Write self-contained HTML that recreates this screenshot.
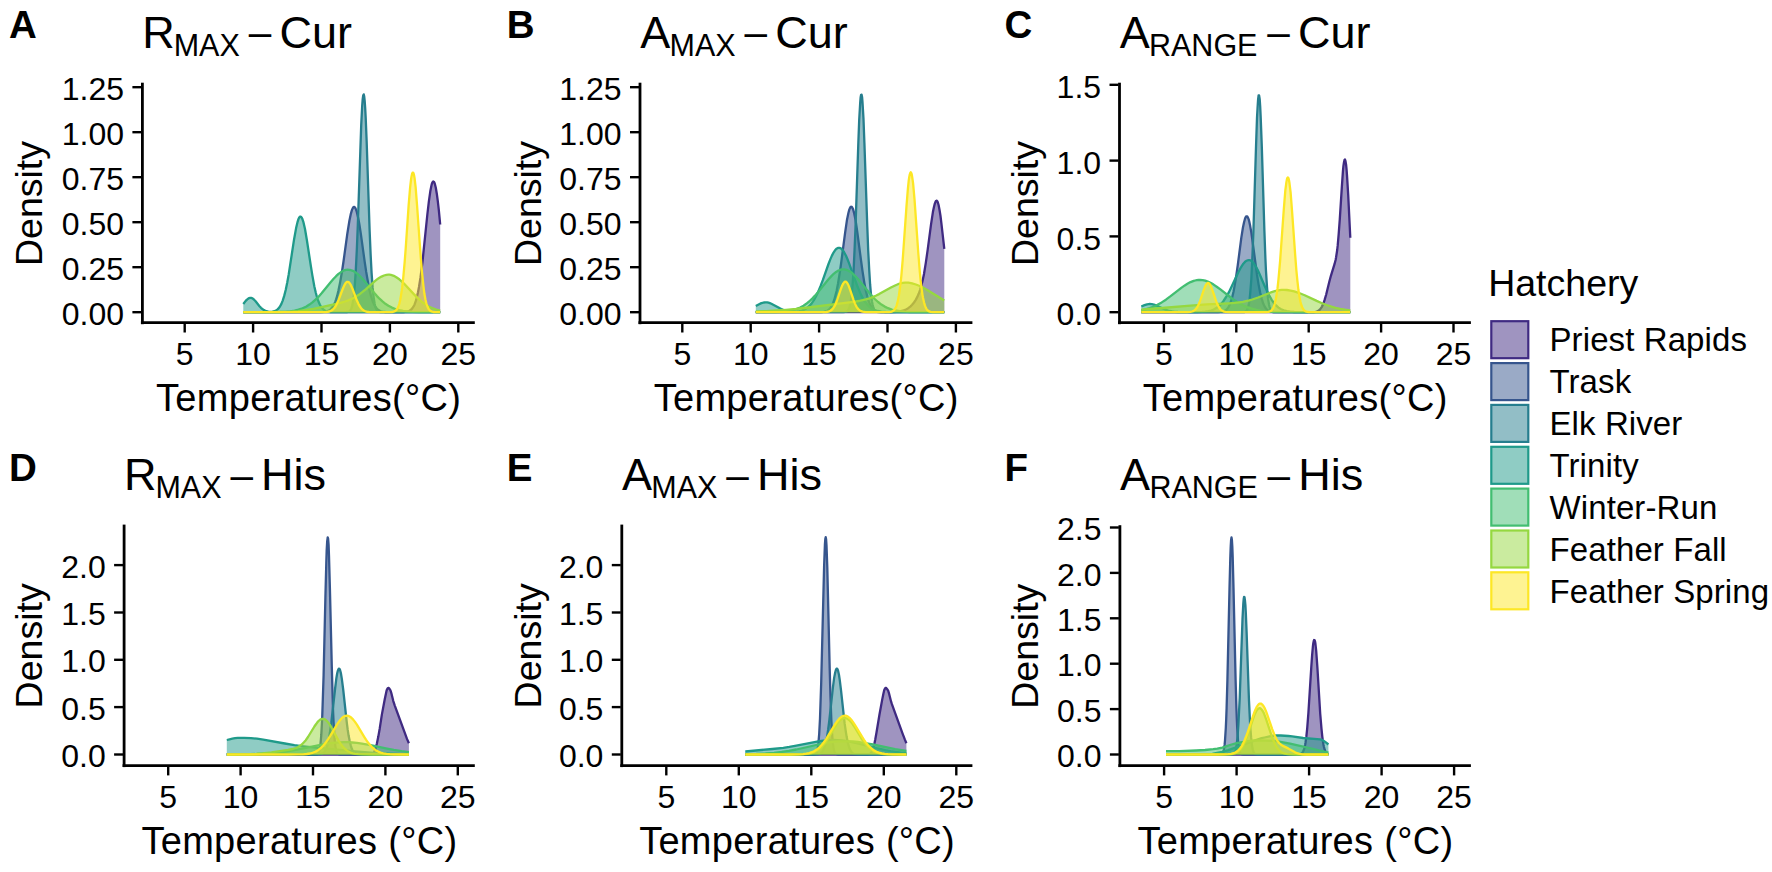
<!DOCTYPE html>
<html lang="en"><head><meta charset="utf-8"><title>Hatchery temperature density figure</title>
<style>html,body{margin:0;padding:0;background:#fff;}body{width:1772px;height:872px;overflow:hidden;}svg{display:block;}text{fill:#000;}</style>
</head><body>
<svg width="1772" height="872" viewBox="0 0 1772 872" font-family="Liberation Sans, Arial, sans-serif">
<rect x="0" y="0" width="1772" height="872" fill="#ffffff"/>
<g id="panelA">
<polygon points="243.3,312.2 243.3,312.2 399.3,312.2 403.2,312.1 405.7,311.9 407.7,311.5 409.1,311.0 410.6,310.1 412.1,308.6 413.6,306.4 414.6,304.4 416.1,300.2 417.0,296.6 418.0,292.2 419.0,287.0 420.5,277.4 422.5,261.6 423.9,247.9 427.4,214.0 428.9,201.1 430.4,190.7 431.4,185.8 431.8,184.0 432.3,182.7 432.8,181.9 433.3,181.5 433.8,181.7 434.3,182.4 434.8,183.7 435.8,187.8 436.8,193.7 437.8,201.2 438.8,209.9 440.2,224.5 440.2,312.2" fill="#3F2A82" fill-opacity="0.5" stroke="none"/>
<polyline points="243.3,312.2 399.3,312.2 403.2,312.1 405.7,311.9 407.7,311.5 409.1,311.0 410.6,310.1 412.1,308.6 413.6,306.4 414.6,304.4 416.1,300.2 417.0,296.6 418.0,292.2 419.0,287.0 420.5,277.4 422.5,261.6 423.9,247.9 427.4,214.0 428.9,201.1 430.4,190.7 431.4,185.8 431.8,184.0 432.3,182.7 432.8,181.9 433.3,181.5 433.8,181.7 434.3,182.4 434.8,183.7 435.8,187.8 436.8,193.7 437.8,201.2 438.8,209.9 440.2,224.5" fill="none" stroke="#3F2A82" stroke-width="2.3" stroke-linejoin="round"/>
<polygon points="243.3,312.2 243.3,312.2 312.9,312.2 320.8,312.1 324.2,311.9 326.7,311.4 328.7,310.6 329.7,310.0 330.6,309.3 332.1,307.6 333.1,306.2 334.1,304.4 335.1,302.1 336.1,299.4 337.1,296.2 338.5,290.3 340.0,283.1 342.0,271.5 343.5,261.5 347.4,233.2 349.4,220.8 350.9,213.6 351.9,210.1 352.4,208.9 352.9,207.9 353.3,207.2 353.8,206.9 354.3,207.0 354.8,207.3 355.3,208.0 355.8,209.0 356.8,212.0 358.3,218.5 359.3,224.0 360.8,233.6 364.7,261.9 366.2,271.9 368.2,283.4 369.6,290.6 371.1,296.4 372.6,301.0 374.1,304.5 375.1,306.3 376.1,307.7 377.0,308.8 378.0,309.7 379.0,310.4 380.0,310.9 381.0,311.3 382.5,311.7 385.4,312.0 392.8,312.2 440.2,312.2 440.2,312.2" fill="#36558D" fill-opacity="0.5" stroke="none"/>
<polyline points="243.3,312.2 312.9,312.2 320.8,312.1 324.2,311.9 326.7,311.4 328.7,310.6 329.7,310.0 330.6,309.3 332.1,307.6 333.1,306.2 334.1,304.4 335.1,302.1 336.1,299.4 337.1,296.2 338.5,290.3 340.0,283.1 342.0,271.5 343.5,261.5 347.4,233.2 349.4,220.8 350.9,213.6 351.9,210.1 352.4,208.9 352.9,207.9 353.3,207.2 353.8,206.9 354.3,207.0 354.8,207.3 355.3,208.0 355.8,209.0 356.8,212.0 358.3,218.5 359.3,224.0 360.8,233.6 364.7,261.9 366.2,271.9 368.2,283.4 369.6,290.6 371.1,296.4 372.6,301.0 374.1,304.5 375.1,306.3 376.1,307.7 377.0,308.8 378.0,309.7 379.0,310.4 380.0,310.9 381.0,311.3 382.5,311.7 385.4,312.0 392.8,312.2 440.2,312.2" fill="none" stroke="#36558D" stroke-width="2.3" stroke-linejoin="round"/>
<polygon points="243.3,312.2 243.3,312.2 345.4,312.2 347.4,312.0 348.9,311.6 349.9,310.9 350.4,310.3 350.9,309.5 351.4,308.4 351.9,307.0 352.4,305.1 353.3,299.6 353.8,295.7 354.8,285.2 355.8,270.2 356.8,250.2 357.8,225.3 360.3,151.9 361.2,125.4 362.2,105.6 362.7,99.2 363.2,95.4 363.7,94.4 364.2,96.3 364.7,101.0 365.2,108.3 365.7,117.9 366.7,142.5 369.6,229.8 370.6,253.9 371.6,273.0 372.6,287.2 373.6,297.1 374.6,303.5 375.1,305.8 375.6,307.5 376.1,308.8 376.6,309.8 377.0,310.5 377.5,311.0 378.0,311.4 379.0,311.8 381.0,312.1 440.2,312.2 440.2,312.2" fill="#267E8E" fill-opacity="0.5" stroke="none"/>
<polyline points="243.3,312.2 345.4,312.2 347.4,312.0 348.9,311.6 349.9,310.9 350.4,310.3 350.9,309.5 351.4,308.4 351.9,307.0 352.4,305.1 353.3,299.6 353.8,295.7 354.8,285.2 355.8,270.2 356.8,250.2 357.8,225.3 360.3,151.9 361.2,125.4 362.2,105.6 362.7,99.2 363.2,95.4 363.7,94.4 364.2,96.3 364.7,101.0 365.2,108.3 365.7,117.9 366.7,142.5 369.6,229.8 370.6,253.9 371.6,273.0 372.6,287.2 373.6,297.1 374.6,303.5 375.1,305.8 375.6,307.5 376.1,308.8 376.6,309.8 377.0,310.5 377.5,311.0 378.0,311.4 379.0,311.8 381.0,312.1 440.2,312.2" fill="none" stroke="#267E8E" stroke-width="2.3" stroke-linejoin="round"/>
<polygon points="243.3,312.2 243.3,304.0 245.7,300.9 246.7,299.9 247.7,299.0 249.2,298.1 250.2,297.8 250.7,297.8 251.1,297.9 252.1,298.2 253.1,298.8 254.1,299.7 255.6,301.3 259.5,306.2 261.0,307.8 262.0,308.7 264.0,310.1 265.0,310.6 266.5,311.2 268.4,311.6 270.4,311.8 272.4,311.6 274.4,311.2 275.8,310.6 277.3,309.6 278.8,308.1 279.8,306.8 281.3,304.1 282.7,300.6 284.2,295.9 285.7,290.0 287.2,282.8 288.7,274.5 294.1,239.2 296.1,228.1 297.6,221.8 298.5,218.9 299.0,217.9 299.5,217.1 300.0,216.7 300.5,216.6 301.0,216.8 301.5,217.4 302.0,218.2 302.5,219.3 303.5,222.4 305.0,229.0 306.9,240.3 310.9,266.4 312.4,275.6 314.3,286.2 315.8,292.8 316.8,296.5 317.8,299.7 318.8,302.3 319.8,304.5 320.8,306.3 321.8,307.7 322.7,308.8 324.2,310.1 325.2,310.7 326.2,311.1 328.2,311.7 330.6,312.0 334.6,312.2 440.2,312.2 440.2,312.2" fill="#1F9A8A" fill-opacity="0.5" stroke="none"/>
<polyline points="243.3,304.0 245.7,300.9 246.7,299.9 247.7,299.0 249.2,298.1 250.2,297.8 250.7,297.8 251.1,297.9 252.1,298.2 253.1,298.8 254.1,299.7 255.6,301.3 259.5,306.2 261.0,307.8 262.0,308.7 264.0,310.1 265.0,310.6 266.5,311.2 268.4,311.6 270.4,311.8 272.4,311.6 274.4,311.2 275.8,310.6 277.3,309.6 278.8,308.1 279.8,306.8 281.3,304.1 282.7,300.6 284.2,295.9 285.7,290.0 287.2,282.8 288.7,274.5 294.1,239.2 296.1,228.1 297.6,221.8 298.5,218.9 299.0,217.9 299.5,217.1 300.0,216.7 300.5,216.6 301.0,216.8 301.5,217.4 302.0,218.2 302.5,219.3 303.5,222.4 305.0,229.0 306.9,240.3 310.9,266.4 312.4,275.6 314.3,286.2 315.8,292.8 316.8,296.5 317.8,299.7 318.8,302.3 319.8,304.5 320.8,306.3 321.8,307.7 322.7,308.8 324.2,310.1 325.2,310.7 326.2,311.1 328.2,311.7 330.6,312.0 334.6,312.2 440.2,312.2" fill="none" stroke="#1F9A8A" stroke-width="2.3" stroke-linejoin="round"/>
<polygon points="243.3,312.2 243.3,312.2 272.9,312.1 279.8,312.0 285.2,311.8 290.2,311.3 294.6,310.6 298.5,309.7 302.5,308.3 306.0,306.7 309.4,304.6 312.4,302.4 315.8,299.4 318.8,296.4 321.8,293.1 330.6,282.3 333.6,278.8 336.1,276.2 338.5,273.9 341.0,272.1 343.5,270.7 345.0,270.2 345.9,269.9 347.9,269.7 348.9,269.8 350.4,270.0 351.4,270.3 352.9,270.8 355.3,272.2 357.8,274.1 360.3,276.5 362.7,279.1 365.7,282.6 374.1,292.8 377.0,296.1 379.5,298.7 382.5,301.4 385.4,303.8 388.4,305.7 391.9,307.6 395.3,309.0 399.3,310.2 403.2,310.9 407.7,311.5 412.6,311.9 419.0,312.1 440.2,312.2 440.2,312.2" fill="#42BE71" fill-opacity="0.5" stroke="none"/>
<polyline points="243.3,312.2 272.9,312.1 279.8,312.0 285.2,311.8 290.2,311.3 294.6,310.6 298.5,309.7 302.5,308.3 306.0,306.7 309.4,304.6 312.4,302.4 315.8,299.4 318.8,296.4 321.8,293.1 330.6,282.3 333.6,278.8 336.1,276.2 338.5,273.9 341.0,272.1 343.5,270.7 345.0,270.2 345.9,269.9 347.9,269.7 348.9,269.8 350.4,270.0 351.4,270.3 352.9,270.8 355.3,272.2 357.8,274.1 360.3,276.5 362.7,279.1 365.7,282.6 374.1,292.8 377.0,296.1 379.5,298.7 382.5,301.4 385.4,303.8 388.4,305.7 391.9,307.6 395.3,309.0 399.3,310.2 403.2,310.9 407.7,311.5 412.6,311.9 419.0,312.1 440.2,312.2" fill="none" stroke="#42BE71" stroke-width="2.3" stroke-linejoin="round"/>
<polygon points="243.3,312.2 243.3,312.2 267.9,312.2 280.3,312.0 290.2,311.7 298.1,311.1 305.5,310.2 313.4,308.9 322.7,306.9 340.5,302.8 345.0,301.5 348.4,300.3 351.9,298.8 355.3,297.0 358.8,294.8 362.2,292.2 365.7,289.3 374.6,281.4 377.0,279.4 379.0,278.0 381.5,276.6 384.0,275.5 386.4,274.8 388.4,274.7 389.4,274.7 390.9,274.9 392.4,275.3 393.8,275.8 396.3,277.2 399.3,279.3 401.7,281.4 404.2,283.8 413.6,293.9 417.5,297.9 421.5,301.5 424.9,304.1 428.4,306.2 430.4,307.3 432.3,308.1 436.3,309.5 440.2,310.5 440.2,312.2" fill="#95D840" fill-opacity="0.5" stroke="none"/>
<polyline points="243.3,312.2 267.9,312.2 280.3,312.0 290.2,311.7 298.1,311.1 305.5,310.2 313.4,308.9 322.7,306.9 340.5,302.8 345.0,301.5 348.4,300.3 351.9,298.8 355.3,297.0 358.8,294.8 362.2,292.2 365.7,289.3 374.6,281.4 377.0,279.4 379.0,278.0 381.5,276.6 384.0,275.5 386.4,274.8 388.4,274.7 389.4,274.7 390.9,274.9 392.4,275.3 393.8,275.8 396.3,277.2 399.3,279.3 401.7,281.4 404.2,283.8 413.6,293.9 417.5,297.9 421.5,301.5 424.9,304.1 428.4,306.2 430.4,307.3 432.3,308.1 436.3,309.5 440.2,310.5" fill="none" stroke="#95D840" stroke-width="2.3" stroke-linejoin="round"/>
<polygon points="243.3,312.2 243.3,312.2 321.3,312.2 326.2,312.0 327.7,311.8 329.2,311.5 331.1,310.7 332.6,309.7 334.1,308.2 335.6,306.2 337.1,303.4 338.5,300.1 342.5,289.5 344.0,286.0 345.0,284.1 345.9,282.7 346.4,282.3 346.9,281.9 347.4,281.8 347.9,281.8 348.4,282.0 348.9,282.3 349.9,283.5 350.9,285.2 352.4,288.5 356.8,300.3 358.3,303.6 359.3,305.5 360.3,307.0 361.2,308.3 362.2,309.4 363.7,310.5 364.7,311.0 365.7,311.4 367.2,311.8 368.7,312.0 372.1,312.2 378.5,312.2 388.4,312.2 391.9,312.0 393.3,311.8 394.3,311.4 395.3,310.9 395.8,310.5 396.8,309.4 397.8,307.8 398.8,305.4 399.3,303.8 400.3,299.7 400.7,297.2 401.7,290.9 402.2,287.2 403.2,278.3 404.7,261.6 405.7,248.5 408.6,205.8 410.1,187.7 411.1,179.0 411.6,175.9 412.1,173.8 412.6,172.7 413.1,172.6 413.6,173.6 414.1,175.5 414.6,178.4 415.6,186.9 417.0,204.7 420.5,254.1 422.0,272.3 423.5,286.5 424.4,293.8 425.4,299.3 426.4,303.5 427.4,306.5 428.4,308.5 428.9,309.3 429.9,310.4 430.4,310.8 431.4,311.4 432.3,311.7 433.3,312.0 435.8,312.2 440.2,312.2 440.2,312.2" fill="#FDE725" fill-opacity="0.5" stroke="none"/>
<polyline points="243.3,312.2 321.3,312.2 326.2,312.0 327.7,311.8 329.2,311.5 331.1,310.7 332.6,309.7 334.1,308.2 335.6,306.2 337.1,303.4 338.5,300.1 342.5,289.5 344.0,286.0 345.0,284.1 345.9,282.7 346.4,282.3 346.9,281.9 347.4,281.8 347.9,281.8 348.4,282.0 348.9,282.3 349.9,283.5 350.9,285.2 352.4,288.5 356.8,300.3 358.3,303.6 359.3,305.5 360.3,307.0 361.2,308.3 362.2,309.4 363.7,310.5 364.7,311.0 365.7,311.4 367.2,311.8 368.7,312.0 372.1,312.2 378.5,312.2 388.4,312.2 391.9,312.0 393.3,311.8 394.3,311.4 395.3,310.9 395.8,310.5 396.8,309.4 397.8,307.8 398.8,305.4 399.3,303.8 400.3,299.7 400.7,297.2 401.7,290.9 402.2,287.2 403.2,278.3 404.7,261.6 405.7,248.5 408.6,205.8 410.1,187.7 411.1,179.0 411.6,175.9 412.1,173.8 412.6,172.7 413.1,172.6 413.6,173.6 414.1,175.5 414.6,178.4 415.6,186.9 417.0,204.7 420.5,254.1 422.0,272.3 423.5,286.5 424.4,293.8 425.4,299.3 426.4,303.5 427.4,306.5 428.4,308.5 428.9,309.3 429.9,310.4 430.4,310.8 431.4,311.4 432.3,311.7 433.3,312.0 435.8,312.2 440.2,312.2" fill="none" stroke="#FDE725" stroke-width="2.3" stroke-linejoin="round"/>
<path d="M142.4,82.7 V324.2" stroke="#000" stroke-width="2.8" fill="none"/>
<path d="M140.9,322.7 H474.8" stroke="#000" stroke-width="2.8" fill="none"/>
<path d="M132.4,312.2 H141.4" stroke="#000" stroke-width="2.4"/>
<text x="124.0" y="325.3" font-size="32" text-anchor="end">0.00</text>
<path d="M132.4,267.2 H141.4" stroke="#000" stroke-width="2.4"/>
<text x="124.0" y="280.3" font-size="32" text-anchor="end">0.25</text>
<path d="M132.4,222.2 H141.4" stroke="#000" stroke-width="2.4"/>
<text x="124.0" y="235.3" font-size="32" text-anchor="end">0.50</text>
<path d="M132.4,177.2 H141.4" stroke="#000" stroke-width="2.4"/>
<text x="124.0" y="190.3" font-size="32" text-anchor="end">0.75</text>
<path d="M132.4,132.2 H141.4" stroke="#000" stroke-width="2.4"/>
<text x="124.0" y="145.3" font-size="32" text-anchor="end">1.00</text>
<path d="M132.4,87.2 H141.4" stroke="#000" stroke-width="2.4"/>
<text x="124.0" y="100.3" font-size="32" text-anchor="end">1.25</text>
<path d="M184.7,323.7 V332.5" stroke="#000" stroke-width="2.4"/>
<text x="184.7" y="365.2" font-size="32" text-anchor="middle">5</text>
<path d="M253.1,323.7 V332.5" stroke="#000" stroke-width="2.4"/>
<text x="253.1" y="365.2" font-size="32" text-anchor="middle">10</text>
<path d="M321.5,323.7 V332.5" stroke="#000" stroke-width="2.4"/>
<text x="321.5" y="365.2" font-size="32" text-anchor="middle">15</text>
<path d="M389.9,323.7 V332.5" stroke="#000" stroke-width="2.4"/>
<text x="389.9" y="365.2" font-size="32" text-anchor="middle">20</text>
<path d="M458.3,323.7 V332.5" stroke="#000" stroke-width="2.4"/>
<text x="458.3" y="365.2" font-size="32" text-anchor="middle">25</text>
<text x="308.6" y="410.9" font-size="38" text-anchor="middle" letter-spacing="0.3">Temperatures(°C)</text>
<text transform="translate(42.4,203.5) rotate(-90)" font-size="37.5" text-anchor="middle">Density</text>
<text x="9" y="37.8" font-size="38.5" font-weight="bold">A</text>
<text x="142.2" y="47.5" font-size="45">R</text>
<text x="173.7" y="55.8" font-size="30.5">MAX</text>
<text x="248.8" y="46.4" font-size="40.5">–</text>
<text x="279.5" y="47.5" font-size="45">Cur</text>
</g>
<g id="panelB">
<polygon points="755.8,312.2 755.8,312.2 878.1,312.2 890.9,312.1 896.6,311.8 898.9,311.5 900.8,311.2 902.7,310.7 904.6,310.1 906.5,309.2 907.9,308.4 910.3,306.6 912.1,304.8 914.0,302.5 915.9,299.6 917.3,296.9 918.8,293.6 920.2,289.6 921.6,284.7 923.0,278.7 924.0,274.0 925.8,262.9 927.7,249.7 931.0,224.6 932.9,212.1 933.9,207.2 934.8,203.6 935.3,202.3 935.8,201.3 936.2,200.8 936.7,200.7 937.2,201.1 937.7,202.0 938.1,203.3 938.6,205.0 939.5,209.8 940.5,216.0 941.4,223.3 944.3,248.9 944.3,312.2" fill="#3F2A82" fill-opacity="0.5" stroke="none"/>
<polyline points="755.8,312.2 878.1,312.2 890.9,312.1 896.6,311.8 898.9,311.5 900.8,311.2 902.7,310.7 904.6,310.1 906.5,309.2 907.9,308.4 910.3,306.6 912.1,304.8 914.0,302.5 915.9,299.6 917.3,296.9 918.8,293.6 920.2,289.6 921.6,284.7 923.0,278.7 924.0,274.0 925.8,262.9 927.7,249.7 931.0,224.6 932.9,212.1 933.9,207.2 934.8,203.6 935.3,202.3 935.8,201.3 936.2,200.8 936.7,200.7 937.2,201.1 937.7,202.0 938.1,203.3 938.6,205.0 939.5,209.8 940.5,216.0 941.4,223.3 944.3,248.9" fill="none" stroke="#3F2A82" stroke-width="2.3" stroke-linejoin="round"/>
<polygon points="755.8,312.2 755.8,312.2 813.9,312.2 821.0,312.1 823.8,311.8 826.2,311.2 827.1,310.8 828.0,310.3 829.0,309.5 829.9,308.6 830.9,307.3 831.8,305.8 833.2,302.7 834.2,300.0 835.1,296.8 836.6,291.0 838.0,283.7 839.9,271.9 841.3,261.8 845.1,232.8 846.9,220.3 848.4,213.0 849.3,209.6 849.8,208.4 850.3,207.5 850.7,206.9 851.2,206.7 851.7,206.9 852.1,207.3 852.6,208.2 853.1,209.3 854.0,212.6 855.5,219.7 857.3,232.1 861.1,261.0 862.5,271.2 864.4,283.1 865.8,290.5 867.3,296.5 868.2,299.7 869.2,302.4 870.6,305.6 871.5,307.2 872.5,308.5 873.4,309.4 874.3,310.2 875.3,310.8 876.2,311.2 878.6,311.8 881.4,312.1 888.5,312.2 944.3,312.2 944.3,312.2" fill="#36558D" fill-opacity="0.5" stroke="none"/>
<polyline points="755.8,312.2 813.9,312.2 821.0,312.1 823.8,311.8 826.2,311.2 827.1,310.8 828.0,310.3 829.0,309.5 829.9,308.6 830.9,307.3 831.8,305.8 833.2,302.7 834.2,300.0 835.1,296.8 836.6,291.0 838.0,283.7 839.9,271.9 841.3,261.8 845.1,232.8 846.9,220.3 848.4,213.0 849.3,209.6 849.8,208.4 850.3,207.5 850.7,206.9 851.2,206.7 851.7,206.9 852.1,207.3 852.6,208.2 853.1,209.3 854.0,212.6 855.5,219.7 857.3,232.1 861.1,261.0 862.5,271.2 864.4,283.1 865.8,290.5 867.3,296.5 868.2,299.7 869.2,302.4 870.6,305.6 871.5,307.2 872.5,308.5 873.4,309.4 874.3,310.2 875.3,310.8 876.2,311.2 878.6,311.8 881.4,312.1 888.5,312.2 944.3,312.2" fill="none" stroke="#36558D" stroke-width="2.3" stroke-linejoin="round"/>
<polygon points="755.8,312.2 755.8,312.2 843.2,312.2 845.5,311.9 846.5,311.6 846.9,311.4 847.9,310.6 848.8,309.0 849.8,306.4 850.3,304.4 851.2,298.8 851.7,294.9 852.6,284.6 853.6,270.1 854.5,251.0 855.5,227.5 858.3,143.7 859.2,119.7 860.2,102.6 860.6,97.5 861.1,94.8 861.6,94.7 862.1,97.2 862.5,102.2 863.5,119.0 864.4,142.8 867.3,226.6 868.2,250.3 869.2,269.5 870.1,284.2 871.0,294.6 872.0,301.7 872.5,304.2 873.4,307.8 874.3,309.9 875.3,311.0 875.8,311.4 876.7,311.8 878.6,312.1 882.9,312.2 944.3,312.2 944.3,312.2" fill="#267E8E" fill-opacity="0.5" stroke="none"/>
<polyline points="755.8,312.2 843.2,312.2 845.5,311.9 846.5,311.6 846.9,311.4 847.9,310.6 848.8,309.0 849.8,306.4 850.3,304.4 851.2,298.8 851.7,294.9 852.6,284.6 853.6,270.1 854.5,251.0 855.5,227.5 858.3,143.7 859.2,119.7 860.2,102.6 860.6,97.5 861.1,94.8 861.6,94.7 862.1,97.2 862.5,102.2 863.5,119.0 864.4,142.8 867.3,226.6 868.2,250.3 869.2,269.5 870.1,284.2 871.0,294.6 872.0,301.7 872.5,304.2 873.4,307.8 874.3,309.9 875.3,311.0 875.8,311.4 876.7,311.8 878.6,312.1 882.9,312.2 944.3,312.2" fill="none" stroke="#267E8E" stroke-width="2.3" stroke-linejoin="round"/>
<polygon points="755.8,312.2 755.8,306.0 759.1,304.2 761.4,303.1 763.8,302.5 765.2,302.3 766.2,302.3 767.1,302.4 768.5,302.7 769.9,303.1 771.4,303.7 773.7,304.9 779.4,308.1 781.3,309.0 783.2,309.8 786.0,310.8 789.3,311.4 791.7,311.6 794.5,311.7 796.9,311.5 799.2,311.2 801.6,310.6 803.5,309.9 805.4,309.0 806.8,308.1 809.1,306.2 811.5,303.6 813.9,300.2 815.8,296.8 818.1,291.9 820.5,286.2 822.9,279.9 828.5,264.0 830.4,259.1 831.8,255.9 833.7,252.3 834.7,250.8 835.6,249.6 836.6,248.7 837.5,248.1 838.4,247.8 838.9,247.8 839.4,247.8 840.3,248.1 841.3,248.7 842.2,249.6 843.2,250.8 844.1,252.2 846.0,255.8 847.4,259.0 849.3,263.9 855.5,281.1 857.8,287.3 860.2,292.9 862.5,297.7 864.9,301.6 867.3,304.6 869.6,307.0 872.0,308.7 873.4,309.5 874.8,310.1 877.7,311.0 881.4,311.7 885.7,312.0 896.1,312.2 944.3,312.2 944.3,312.2" fill="#1F9A8A" fill-opacity="0.5" stroke="none"/>
<polyline points="755.8,306.0 759.1,304.2 761.4,303.1 763.8,302.5 765.2,302.3 766.2,302.3 767.1,302.4 768.5,302.7 769.9,303.1 771.4,303.7 773.7,304.9 779.4,308.1 781.3,309.0 783.2,309.8 786.0,310.8 789.3,311.4 791.7,311.6 794.5,311.7 796.9,311.5 799.2,311.2 801.6,310.6 803.5,309.9 805.4,309.0 806.8,308.1 809.1,306.2 811.5,303.6 813.9,300.2 815.8,296.8 818.1,291.9 820.5,286.2 822.9,279.9 828.5,264.0 830.4,259.1 831.8,255.9 833.7,252.3 834.7,250.8 835.6,249.6 836.6,248.7 837.5,248.1 838.4,247.8 838.9,247.8 839.4,247.8 840.3,248.1 841.3,248.7 842.2,249.6 843.2,250.8 844.1,252.2 846.0,255.8 847.4,259.0 849.3,263.9 855.5,281.1 857.8,287.3 860.2,292.9 862.5,297.7 864.9,301.6 867.3,304.6 869.6,307.0 872.0,308.7 873.4,309.5 874.8,310.1 877.7,311.0 881.4,311.7 885.7,312.0 896.1,312.2 944.3,312.2" fill="none" stroke="#1F9A8A" stroke-width="2.3" stroke-linejoin="round"/>
<polygon points="755.8,312.2 755.8,312.2 774.7,312.0 780.3,311.8 785.1,311.4 789.3,310.9 793.1,310.1 796.9,308.9 800.2,307.5 803.5,305.7 806.3,303.8 809.1,301.5 812.5,298.4 814.8,295.9 817.7,292.6 828.5,279.2 831.4,276.1 833.7,273.8 836.1,271.9 838.4,270.6 839.9,270.0 840.8,269.7 842.2,269.4 843.2,269.4 844.1,269.4 845.5,269.6 846.5,269.9 847.9,270.4 850.3,271.7 852.6,273.5 855.0,275.8 857.8,278.8 860.6,282.2 869.2,292.8 872.0,296.1 874.8,299.0 878.1,302.0 881.4,304.6 884.7,306.6 888.0,308.2 891.8,309.6 895.6,310.5 899.9,311.2 904.6,311.7 909.8,312.0 916.9,312.1 944.3,312.2 944.3,312.2" fill="#42BE71" fill-opacity="0.5" stroke="none"/>
<polyline points="755.8,312.2 774.7,312.0 780.3,311.8 785.1,311.4 789.3,310.9 793.1,310.1 796.9,308.9 800.2,307.5 803.5,305.7 806.3,303.8 809.1,301.5 812.5,298.4 814.8,295.9 817.7,292.6 828.5,279.2 831.4,276.1 833.7,273.8 836.1,271.9 838.4,270.6 839.9,270.0 840.8,269.7 842.2,269.4 843.2,269.4 844.1,269.4 845.5,269.6 846.5,269.9 847.9,270.4 850.3,271.7 852.6,273.5 855.0,275.8 857.8,278.8 860.6,282.2 869.2,292.8 872.0,296.1 874.8,299.0 878.1,302.0 881.4,304.6 884.7,306.6 888.0,308.2 891.8,309.6 895.6,310.5 899.9,311.2 904.6,311.7 909.8,312.0 916.9,312.1 944.3,312.2" fill="none" stroke="#42BE71" stroke-width="2.3" stroke-linejoin="round"/>
<polygon points="755.8,312.2 755.8,311.5 766.6,311.1 776.5,310.5 786.0,309.8 795.9,308.9 808.2,307.5 847.4,302.7 853.6,301.9 858.8,301.0 862.5,300.2 865.8,299.4 869.2,298.3 872.5,297.1 875.8,295.7 879.1,294.1 890.9,287.5 895.6,285.2 898.0,284.2 900.3,283.5 902.7,282.9 905.1,282.6 906.9,282.6 908.4,282.7 912.1,283.4 915.9,284.5 919.7,286.0 923.0,287.6 926.8,289.7 939.5,297.6 944.3,300.4 944.3,312.2" fill="#95D840" fill-opacity="0.5" stroke="none"/>
<polyline points="755.8,311.5 766.6,311.1 776.5,310.5 786.0,309.8 795.9,308.9 808.2,307.5 847.4,302.7 853.6,301.9 858.8,301.0 862.5,300.2 865.8,299.4 869.2,298.3 872.5,297.1 875.8,295.7 879.1,294.1 890.9,287.5 895.6,285.2 898.0,284.2 900.3,283.5 902.7,282.9 905.1,282.6 906.9,282.6 908.4,282.7 912.1,283.4 915.9,284.5 919.7,286.0 923.0,287.6 926.8,289.7 939.5,297.6 944.3,300.4" fill="none" stroke="#95D840" stroke-width="2.3" stroke-linejoin="round"/>
<polygon points="755.8,312.2 755.8,312.2 821.9,312.2 826.2,312.0 827.6,311.8 829.0,311.4 830.4,310.8 831.8,309.8 833.2,308.2 834.7,305.9 835.6,304.0 837.0,300.5 840.8,289.2 842.2,285.5 843.2,283.6 844.1,282.3 844.6,281.9 845.1,281.6 845.5,281.6 846.0,281.8 846.5,282.1 846.9,282.6 847.4,283.3 848.4,285.2 849.8,288.8 853.6,300.1 855.0,303.6 855.9,305.6 856.9,307.3 857.8,308.6 858.8,309.6 860.2,310.7 861.1,311.2 862.5,311.7 864.0,311.9 865.8,312.1 870.1,312.2 885.7,312.2 889.0,312.1 890.9,311.8 892.3,311.4 893.7,310.5 894.7,309.4 895.6,307.9 896.6,305.6 897.5,302.4 898.4,298.1 898.9,295.5 900.3,285.2 901.3,276.3 902.7,259.9 906.5,206.2 907.9,188.7 908.8,179.9 909.3,176.7 909.8,174.3 910.3,172.9 910.7,172.3 911.2,172.8 911.7,174.1 912.1,176.4 913.1,183.4 914.5,199.2 918.3,253.0 919.7,270.6 920.6,280.4 921.6,288.6 922.5,295.1 923.0,297.8 924.0,302.2 924.9,305.4 925.4,306.7 926.3,308.6 926.8,309.4 927.7,310.4 928.2,310.8 929.2,311.4 930.6,311.8 932.9,312.1 944.3,312.2 944.3,312.2" fill="#FDE725" fill-opacity="0.5" stroke="none"/>
<polyline points="755.8,312.2 821.9,312.2 826.2,312.0 827.6,311.8 829.0,311.4 830.4,310.8 831.8,309.8 833.2,308.2 834.7,305.9 835.6,304.0 837.0,300.5 840.8,289.2 842.2,285.5 843.2,283.6 844.1,282.3 844.6,281.9 845.1,281.6 845.5,281.6 846.0,281.8 846.5,282.1 846.9,282.6 847.4,283.3 848.4,285.2 849.8,288.8 853.6,300.1 855.0,303.6 855.9,305.6 856.9,307.3 857.8,308.6 858.8,309.6 860.2,310.7 861.1,311.2 862.5,311.7 864.0,311.9 865.8,312.1 870.1,312.2 885.7,312.2 889.0,312.1 890.9,311.8 892.3,311.4 893.7,310.5 894.7,309.4 895.6,307.9 896.6,305.6 897.5,302.4 898.4,298.1 898.9,295.5 900.3,285.2 901.3,276.3 902.7,259.9 906.5,206.2 907.9,188.7 908.8,179.9 909.3,176.7 909.8,174.3 910.3,172.9 910.7,172.3 911.2,172.8 911.7,174.1 912.1,176.4 913.1,183.4 914.5,199.2 918.3,253.0 919.7,270.6 920.6,280.4 921.6,288.6 922.5,295.1 923.0,297.8 924.0,302.2 924.9,305.4 925.4,306.7 926.3,308.6 926.8,309.4 927.7,310.4 928.2,310.8 929.2,311.4 930.6,311.8 932.9,312.1 944.3,312.2" fill="none" stroke="#FDE725" stroke-width="2.3" stroke-linejoin="round"/>
<path d="M640.0,82.7 V324.2" stroke="#000" stroke-width="2.8" fill="none"/>
<path d="M638.5,322.7 H972.4" stroke="#000" stroke-width="2.8" fill="none"/>
<path d="M630.0,312.2 H639.0" stroke="#000" stroke-width="2.4"/>
<text x="621.6" y="325.3" font-size="32" text-anchor="end">0.00</text>
<path d="M630.0,267.2 H639.0" stroke="#000" stroke-width="2.4"/>
<text x="621.6" y="280.3" font-size="32" text-anchor="end">0.25</text>
<path d="M630.0,222.2 H639.0" stroke="#000" stroke-width="2.4"/>
<text x="621.6" y="235.3" font-size="32" text-anchor="end">0.50</text>
<path d="M630.0,177.2 H639.0" stroke="#000" stroke-width="2.4"/>
<text x="621.6" y="190.3" font-size="32" text-anchor="end">0.75</text>
<path d="M630.0,132.2 H639.0" stroke="#000" stroke-width="2.4"/>
<text x="621.6" y="145.3" font-size="32" text-anchor="end">1.00</text>
<path d="M630.0,87.2 H639.0" stroke="#000" stroke-width="2.4"/>
<text x="621.6" y="100.3" font-size="32" text-anchor="end">1.25</text>
<path d="M682.3,323.7 V332.5" stroke="#000" stroke-width="2.4"/>
<text x="682.3" y="365.2" font-size="32" text-anchor="middle">5</text>
<path d="M750.7,323.7 V332.5" stroke="#000" stroke-width="2.4"/>
<text x="750.7" y="365.2" font-size="32" text-anchor="middle">10</text>
<path d="M819.1,323.7 V332.5" stroke="#000" stroke-width="2.4"/>
<text x="819.1" y="365.2" font-size="32" text-anchor="middle">15</text>
<path d="M887.5,323.7 V332.5" stroke="#000" stroke-width="2.4"/>
<text x="887.5" y="365.2" font-size="32" text-anchor="middle">20</text>
<path d="M955.9,323.7 V332.5" stroke="#000" stroke-width="2.4"/>
<text x="955.9" y="365.2" font-size="32" text-anchor="middle">25</text>
<text x="806.2" y="410.9" font-size="38" text-anchor="middle" letter-spacing="0.3">Temperatures(°C)</text>
<text transform="translate(540.6,203.5) rotate(-90)" font-size="37.5" text-anchor="middle">Density</text>
<text x="506.8" y="37.8" font-size="38.5" font-weight="bold">B</text>
<text x="640.2" y="47.5" font-size="45">A</text>
<text x="669.5" y="55.8" font-size="30.5">MAX</text>
<text x="744.5" y="46.4" font-size="40.5">–</text>
<text x="775.2" y="47.5" font-size="45">Cur</text>
</g>
<g id="panelC">
<polygon points="1141.3,312.2 1141.3,312.2 1309.9,312.2 1313.6,312.1 1315.7,311.8 1317.3,311.3 1318.8,310.4 1319.9,309.5 1320.4,308.9 1321.5,307.4 1322.0,306.5 1323.6,303.0 1324.6,299.9 1326.2,294.5 1329.3,281.8 1330.9,275.8 1334.5,264.2 1335.6,260.0 1336.1,257.2 1337.2,250.0 1337.7,245.4 1338.7,233.8 1339.8,219.2 1341.9,186.1 1342.9,171.7 1343.4,166.2 1344.0,162.2 1344.5,159.9 1345.0,159.5 1345.5,161.1 1346.1,164.6 1346.6,169.9 1347.1,176.9 1348.2,194.9 1350.3,237.7 1350.3,312.2" fill="#3F2A82" fill-opacity="0.5" stroke="none"/>
<polyline points="1141.3,312.2 1309.9,312.2 1313.6,312.1 1315.7,311.8 1317.3,311.3 1318.8,310.4 1319.9,309.5 1320.4,308.9 1321.5,307.4 1322.0,306.5 1323.6,303.0 1324.6,299.9 1326.2,294.5 1329.3,281.8 1330.9,275.8 1334.5,264.2 1335.6,260.0 1336.1,257.2 1337.2,250.0 1337.7,245.4 1338.7,233.8 1339.8,219.2 1341.9,186.1 1342.9,171.7 1343.4,166.2 1344.0,162.2 1344.5,159.9 1345.0,159.5 1345.5,161.1 1346.1,164.6 1346.6,169.9 1347.1,176.9 1348.2,194.9 1350.3,237.7" fill="none" stroke="#3F2A82" stroke-width="2.3" stroke-linejoin="round"/>
<polygon points="1141.3,312.2 1141.3,312.2 1217.8,312.1 1220.9,311.9 1223.0,311.5 1224.1,311.2 1225.1,310.6 1226.7,309.4 1227.7,308.2 1228.8,306.6 1229.8,304.5 1230.3,303.2 1231.9,298.4 1233.5,291.8 1234.5,286.4 1236.1,276.8 1237.7,265.7 1241.3,237.9 1242.9,227.8 1244.0,222.5 1245.0,218.7 1245.5,217.5 1246.0,216.6 1246.6,216.3 1247.1,216.4 1247.6,216.9 1248.1,217.9 1248.7,219.4 1249.2,221.2 1250.2,226.1 1251.3,232.3 1252.3,239.5 1257.0,274.7 1258.6,284.6 1260.2,292.8 1261.8,299.1 1263.3,303.8 1263.9,305.0 1264.9,307.0 1265.9,308.5 1267.0,309.6 1268.6,310.8 1269.6,311.3 1270.7,311.6 1272.8,312.0 1275.9,312.1 1350.3,312.2 1350.3,312.2" fill="#36558D" fill-opacity="0.5" stroke="none"/>
<polyline points="1141.3,312.2 1217.8,312.1 1220.9,311.9 1223.0,311.5 1224.1,311.2 1225.1,310.6 1226.7,309.4 1227.7,308.2 1228.8,306.6 1229.8,304.5 1230.3,303.2 1231.9,298.4 1233.5,291.8 1234.5,286.4 1236.1,276.8 1237.7,265.7 1241.3,237.9 1242.9,227.8 1244.0,222.5 1245.0,218.7 1245.5,217.5 1246.0,216.6 1246.6,216.3 1247.1,216.4 1247.6,216.9 1248.1,217.9 1248.7,219.4 1249.2,221.2 1250.2,226.1 1251.3,232.3 1252.3,239.5 1257.0,274.7 1258.6,284.6 1260.2,292.8 1261.8,299.1 1263.3,303.8 1263.9,305.0 1264.9,307.0 1265.9,308.5 1267.0,309.6 1268.6,310.8 1269.6,311.3 1270.7,311.6 1272.8,312.0 1275.9,312.1 1350.3,312.2" fill="none" stroke="#36558D" stroke-width="2.3" stroke-linejoin="round"/>
<polygon points="1141.3,312.2 1141.3,312.2 1241.9,312.2 1244.0,312.1 1245.0,311.8 1246.0,311.2 1246.6,310.7 1247.1,309.9 1247.6,308.8 1248.1,307.2 1248.7,305.1 1249.2,302.2 1249.7,298.4 1250.2,293.4 1251.3,279.5 1252.3,259.0 1253.4,231.8 1256.0,147.0 1257.0,117.9 1257.6,107.0 1258.1,99.4 1258.6,95.5 1259.1,95.4 1259.7,99.2 1260.2,106.6 1260.7,117.3 1261.8,146.2 1264.4,231.0 1265.4,258.4 1265.9,269.6 1267.0,286.9 1267.5,293.2 1268.0,298.2 1268.6,302.0 1269.1,305.0 1269.6,307.1 1270.1,308.7 1270.7,309.9 1271.2,310.7 1271.7,311.2 1272.8,311.8 1273.8,312.0 1274.8,312.1 1350.3,312.2 1350.3,312.2" fill="#267E8E" fill-opacity="0.5" stroke="none"/>
<polyline points="1141.3,312.2 1241.9,312.2 1244.0,312.1 1245.0,311.8 1246.0,311.2 1246.6,310.7 1247.1,309.9 1247.6,308.8 1248.1,307.2 1248.7,305.1 1249.2,302.2 1249.7,298.4 1250.2,293.4 1251.3,279.5 1252.3,259.0 1253.4,231.8 1256.0,147.0 1257.0,117.9 1257.6,107.0 1258.1,99.4 1258.6,95.5 1259.1,95.4 1259.7,99.2 1260.2,106.6 1260.7,117.3 1261.8,146.2 1264.4,231.0 1265.4,258.4 1265.9,269.6 1267.0,286.9 1267.5,293.2 1268.0,298.2 1268.6,302.0 1269.1,305.0 1269.6,307.1 1270.1,308.7 1270.7,309.9 1271.2,310.7 1271.7,311.2 1272.8,311.8 1273.8,312.0 1274.8,312.1 1350.3,312.2" fill="none" stroke="#267E8E" stroke-width="2.3" stroke-linejoin="round"/>
<polygon points="1141.3,312.2 1141.3,306.5 1144.5,305.1 1147.1,304.3 1148.6,304.1 1149.7,304.0 1151.8,304.2 1153.9,304.6 1156.0,305.4 1163.8,309.0 1167.5,310.4 1169.6,311.0 1172.2,311.5 1174.8,311.8 1178.0,312.0 1183.2,312.2 1191.1,312.2 1197.3,312.1 1202.1,311.9 1205.2,311.7 1208.3,311.2 1211.0,310.5 1213.1,309.8 1214.6,309.0 1216.2,308.1 1218.8,306.2 1221.4,303.6 1223.5,301.0 1226.1,297.0 1228.8,292.4 1231.4,287.1 1238.2,272.5 1240.3,268.5 1241.9,265.9 1242.9,264.3 1244.0,263.0 1245.5,261.4 1246.6,260.7 1247.6,260.3 1248.7,260.1 1249.2,260.1 1249.7,260.1 1250.8,260.5 1252.3,261.7 1253.9,263.5 1254.9,265.1 1256.0,266.8 1257.6,269.8 1259.1,273.1 1264.9,286.5 1267.0,291.1 1269.6,296.2 1271.7,299.8 1273.8,302.8 1274.8,304.1 1276.4,305.7 1278.5,307.6 1279.6,308.3 1281.1,309.2 1283.8,310.4 1286.9,311.2 1290.0,311.7 1294.2,312.0 1304.7,312.2 1350.3,312.2 1350.3,312.2" fill="#1F9A8A" fill-opacity="0.5" stroke="none"/>
<polyline points="1141.3,306.5 1144.5,305.1 1147.1,304.3 1148.6,304.1 1149.7,304.0 1151.8,304.2 1153.9,304.6 1156.0,305.4 1163.8,309.0 1167.5,310.4 1169.6,311.0 1172.2,311.5 1174.8,311.8 1178.0,312.0 1183.2,312.2 1191.1,312.2 1197.3,312.1 1202.1,311.9 1205.2,311.7 1208.3,311.2 1211.0,310.5 1213.1,309.8 1214.6,309.0 1216.2,308.1 1218.8,306.2 1221.4,303.6 1223.5,301.0 1226.1,297.0 1228.8,292.4 1231.4,287.1 1238.2,272.5 1240.3,268.5 1241.9,265.9 1242.9,264.3 1244.0,263.0 1245.5,261.4 1246.6,260.7 1247.6,260.3 1248.7,260.1 1249.2,260.1 1249.7,260.1 1250.8,260.5 1252.3,261.7 1253.9,263.5 1254.9,265.1 1256.0,266.8 1257.6,269.8 1259.1,273.1 1264.9,286.5 1267.0,291.1 1269.6,296.2 1271.7,299.8 1273.8,302.8 1274.8,304.1 1276.4,305.7 1278.5,307.6 1279.6,308.3 1281.1,309.2 1283.8,310.4 1286.9,311.2 1290.0,311.7 1294.2,312.0 1304.7,312.2 1350.3,312.2" fill="none" stroke="#1F9A8A" stroke-width="2.3" stroke-linejoin="round"/>
<polygon points="1141.3,312.2 1141.3,310.3 1145.5,309.4 1149.7,308.1 1153.9,306.5 1157.5,304.8 1161.7,302.4 1165.9,299.7 1170.6,296.2 1181.6,287.6 1184.8,285.4 1187.4,283.8 1190.5,282.1 1193.7,280.9 1195.2,280.5 1196.8,280.1 1198.4,280.0 1200.0,279.9 1202.6,280.1 1205.2,280.7 1207.8,281.6 1211.0,283.1 1213.6,284.6 1216.7,286.7 1220.4,289.4 1231.4,298.0 1235.0,300.6 1238.7,302.9 1242.9,305.2 1247.1,307.1 1251.8,308.7 1256.5,309.9 1261.2,310.8 1266.5,311.4 1272.2,311.8 1279.0,312.0 1295.8,312.2 1350.3,312.2 1350.3,312.2" fill="#42BE71" fill-opacity="0.5" stroke="none"/>
<polyline points="1141.3,310.3 1145.5,309.4 1149.7,308.1 1153.9,306.5 1157.5,304.8 1161.7,302.4 1165.9,299.7 1170.6,296.2 1181.6,287.6 1184.8,285.4 1187.4,283.8 1190.5,282.1 1193.7,280.9 1195.2,280.5 1196.8,280.1 1198.4,280.0 1200.0,279.9 1202.6,280.1 1205.2,280.7 1207.8,281.6 1211.0,283.1 1213.6,284.6 1216.7,286.7 1220.4,289.4 1231.4,298.0 1235.0,300.6 1238.7,302.9 1242.9,305.2 1247.1,307.1 1251.8,308.7 1256.5,309.9 1261.2,310.8 1266.5,311.4 1272.2,311.8 1279.0,312.0 1295.8,312.2 1350.3,312.2" fill="none" stroke="#42BE71" stroke-width="2.3" stroke-linejoin="round"/>
<polygon points="1141.3,312.2 1141.3,309.6 1155.5,308.5 1193.7,305.3 1206.8,304.4 1228.8,303.3 1234.5,302.9 1239.2,302.3 1242.9,301.8 1246.0,301.1 1249.2,300.4 1252.3,299.5 1258.1,297.5 1270.1,292.7 1274.8,291.2 1277.5,290.5 1279.6,290.2 1281.7,289.9 1283.8,289.8 1286.9,290.0 1290.6,290.6 1294.2,291.4 1297.9,292.6 1301.0,293.8 1304.7,295.3 1316.7,300.9 1321.5,303.0 1326.7,305.0 1331.4,306.6 1335.6,307.8 1340.3,308.9 1345.0,309.7 1350.3,310.4 1350.3,312.2" fill="#95D840" fill-opacity="0.5" stroke="none"/>
<polyline points="1141.3,309.6 1155.5,308.5 1193.7,305.3 1206.8,304.4 1228.8,303.3 1234.5,302.9 1239.2,302.3 1242.9,301.8 1246.0,301.1 1249.2,300.4 1252.3,299.5 1258.1,297.5 1270.1,292.7 1274.8,291.2 1277.5,290.5 1279.6,290.2 1281.7,289.9 1283.8,289.8 1286.9,290.0 1290.6,290.6 1294.2,291.4 1297.9,292.6 1301.0,293.8 1304.7,295.3 1316.7,300.9 1321.5,303.0 1326.7,305.0 1331.4,306.6 1335.6,307.8 1340.3,308.9 1345.0,309.7 1350.3,310.4" fill="none" stroke="#95D840" stroke-width="2.3" stroke-linejoin="round"/>
<polygon points="1141.3,312.2 1141.3,312.2 1186.9,312.2 1190.5,311.9 1192.1,311.5 1193.2,311.1 1194.7,310.1 1195.8,309.1 1196.8,307.8 1197.9,306.0 1198.9,303.8 1200.0,301.2 1203.6,290.4 1205.2,286.3 1206.2,284.3 1206.8,283.7 1207.3,283.2 1207.8,283.0 1208.3,283.0 1208.9,283.2 1209.4,283.7 1209.9,284.4 1211.0,286.4 1212.5,290.5 1216.2,301.3 1217.2,303.9 1218.3,306.0 1219.3,307.8 1220.4,309.2 1221.4,310.2 1223.0,311.1 1224.1,311.6 1225.6,311.9 1229.3,312.2 1263.9,312.2 1266.5,312.1 1268.6,311.9 1270.1,311.3 1271.2,310.7 1272.2,309.5 1273.3,307.8 1274.3,305.1 1274.8,303.3 1275.9,298.7 1276.4,295.7 1277.5,288.4 1278.5,279.0 1280.1,261.1 1283.8,209.3 1285.3,190.6 1286.4,182.1 1286.9,179.4 1287.4,177.8 1287.9,177.4 1288.5,178.2 1289.0,180.2 1289.5,183.3 1290.6,192.4 1292.1,211.8 1295.3,256.7 1296.3,269.7 1297.4,280.8 1298.4,289.8 1299.5,296.8 1300.5,302.0 1301.0,304.0 1302.1,307.0 1303.1,309.0 1303.7,309.8 1304.7,310.8 1305.2,311.2 1306.3,311.6 1308.4,312.0 1313.1,312.2 1350.3,312.2 1350.3,312.2" fill="#FDE725" fill-opacity="0.5" stroke="none"/>
<polyline points="1141.3,312.2 1186.9,312.2 1190.5,311.9 1192.1,311.5 1193.2,311.1 1194.7,310.1 1195.8,309.1 1196.8,307.8 1197.9,306.0 1198.9,303.8 1200.0,301.2 1203.6,290.4 1205.2,286.3 1206.2,284.3 1206.8,283.7 1207.3,283.2 1207.8,283.0 1208.3,283.0 1208.9,283.2 1209.4,283.7 1209.9,284.4 1211.0,286.4 1212.5,290.5 1216.2,301.3 1217.2,303.9 1218.3,306.0 1219.3,307.8 1220.4,309.2 1221.4,310.2 1223.0,311.1 1224.1,311.6 1225.6,311.9 1229.3,312.2 1263.9,312.2 1266.5,312.1 1268.6,311.9 1270.1,311.3 1271.2,310.7 1272.2,309.5 1273.3,307.8 1274.3,305.1 1274.8,303.3 1275.9,298.7 1276.4,295.7 1277.5,288.4 1278.5,279.0 1280.1,261.1 1283.8,209.3 1285.3,190.6 1286.4,182.1 1286.9,179.4 1287.4,177.8 1287.9,177.4 1288.5,178.2 1289.0,180.2 1289.5,183.3 1290.6,192.4 1292.1,211.8 1295.3,256.7 1296.3,269.7 1297.4,280.8 1298.4,289.8 1299.5,296.8 1300.5,302.0 1301.0,304.0 1302.1,307.0 1303.1,309.0 1303.7,309.8 1304.7,310.8 1305.2,311.2 1306.3,311.6 1308.4,312.0 1313.1,312.2 1350.3,312.2" fill="none" stroke="#FDE725" stroke-width="2.3" stroke-linejoin="round"/>
<path d="M1119.5,82.7 V324.2" stroke="#000" stroke-width="2.8" fill="none"/>
<path d="M1118.0,322.7 H1470.9" stroke="#000" stroke-width="2.8" fill="none"/>
<path d="M1109.5,312.2 H1118.5" stroke="#000" stroke-width="2.4"/>
<text x="1101.1" y="325.3" font-size="32" text-anchor="end">0.0</text>
<path d="M1109.5,236.4 H1118.5" stroke="#000" stroke-width="2.4"/>
<text x="1101.1" y="249.5" font-size="32" text-anchor="end">0.5</text>
<path d="M1109.5,160.6 H1118.5" stroke="#000" stroke-width="2.4"/>
<text x="1101.1" y="173.7" font-size="32" text-anchor="end">1.0</text>
<path d="M1109.5,84.8 H1118.5" stroke="#000" stroke-width="2.4"/>
<text x="1101.1" y="97.9" font-size="32" text-anchor="end">1.5</text>
<path d="M1163.9,323.7 V332.5" stroke="#000" stroke-width="2.4"/>
<text x="1163.9" y="365.2" font-size="32" text-anchor="middle">5</text>
<path d="M1236.3,323.7 V332.5" stroke="#000" stroke-width="2.4"/>
<text x="1236.3" y="365.2" font-size="32" text-anchor="middle">10</text>
<path d="M1308.7,323.7 V332.5" stroke="#000" stroke-width="2.4"/>
<text x="1308.7" y="365.2" font-size="32" text-anchor="middle">15</text>
<path d="M1381.1,323.7 V332.5" stroke="#000" stroke-width="2.4"/>
<text x="1381.1" y="365.2" font-size="32" text-anchor="middle">20</text>
<path d="M1453.5,323.7 V332.5" stroke="#000" stroke-width="2.4"/>
<text x="1453.5" y="365.2" font-size="32" text-anchor="middle">25</text>
<text x="1295.2" y="410.9" font-size="38" text-anchor="middle" letter-spacing="0.3">Temperatures(°C)</text>
<text transform="translate(1038.4,203.5) rotate(-90)" font-size="37.5" text-anchor="middle">Density</text>
<text x="1004.4" y="37.8" font-size="38.5" font-weight="bold">C</text>
<text x="1119.7" y="47.5" font-size="45">A</text>
<text x="1149.0" y="55.8" font-size="30.5">RANGE</text>
<text x="1267.2" y="46.4" font-size="40.5">–</text>
<text x="1297.9" y="47.5" font-size="45">Cur</text>
</g>
<g id="panelD">
<polygon points="226.8,754.5 226.8,754.5 370.5,754.5 371.5,754.4 371.9,754.2 372.8,753.6 373.7,752.7 374.2,752.1 375.1,749.9 376.9,743.5 378.3,736.6 379.7,728.7 381.9,714.4 384.7,699.5 386.5,690.9 387.0,689.5 387.4,688.7 387.9,688.1 388.3,687.8 388.8,688.0 389.2,688.5 390.2,689.9 390.6,690.8 391.5,693.7 393.3,701.1 394.7,705.3 404.8,732.9 407.0,738.9 408.9,743.3 408.9,754.5" fill="#3F2A82" fill-opacity="0.5" stroke="none"/>
<polyline points="226.8,754.5 370.5,754.5 371.5,754.4 371.9,754.2 372.8,753.6 373.7,752.7 374.2,752.1 375.1,749.9 376.9,743.5 378.3,736.6 379.7,728.7 381.9,714.4 384.7,699.5 386.5,690.9 387.0,689.5 387.4,688.7 387.9,688.1 388.3,687.8 388.8,688.0 389.2,688.5 390.2,689.9 390.6,690.8 391.5,693.7 393.3,701.1 394.7,705.3 404.8,732.9 407.0,738.9 408.9,743.3" fill="none" stroke="#3F2A82" stroke-width="2.3" stroke-linejoin="round"/>
<polygon points="226.8,754.5 226.8,754.5 314.4,754.5 316.3,754.4 317.2,754.1 317.6,753.9 318.1,753.4 318.5,752.8 319.0,751.8 319.4,750.2 319.9,748.0 320.4,744.9 320.8,740.5 321.3,734.7 321.7,727.1 322.2,717.5 322.6,705.7 323.6,675.3 325.4,597.4 326.3,562.6 326.7,549.7 327.2,541.1 327.7,537.3 328.1,538.6 328.6,544.9 329.0,555.8 329.9,588.1 331.8,666.6 332.7,699.1 333.1,712.0 333.6,722.7 334.5,737.9 335.0,742.9 335.4,746.6 335.9,749.2 336.3,751.1 336.8,752.3 337.2,753.2 337.7,753.7 338.2,754.0 339.1,754.3 340.4,754.5 408.9,754.5 408.9,754.5" fill="#36558D" fill-opacity="0.5" stroke="none"/>
<polyline points="226.8,754.5 314.4,754.5 316.3,754.4 317.2,754.1 317.6,753.9 318.1,753.4 318.5,752.8 319.0,751.8 319.4,750.2 319.9,748.0 320.4,744.9 320.8,740.5 321.3,734.7 321.7,727.1 322.2,717.5 322.6,705.7 323.6,675.3 325.4,597.4 326.3,562.6 326.7,549.7 327.2,541.1 327.7,537.3 328.1,538.6 328.6,544.9 329.0,555.8 329.9,588.1 331.8,666.6 332.7,699.1 333.1,712.0 333.6,722.7 334.5,737.9 335.0,742.9 335.4,746.6 335.9,749.2 336.3,751.1 336.8,752.3 337.2,753.2 337.7,753.7 338.2,754.0 339.1,754.3 340.4,754.5 408.9,754.5" fill="none" stroke="#36558D" stroke-width="2.3" stroke-linejoin="round"/>
<polygon points="226.8,754.5 226.8,754.5 316.7,754.5 319.0,754.4 320.8,754.1 322.2,753.7 323.6,752.9 324.5,752.0 325.4,750.6 326.3,748.7 326.7,747.5 327.7,744.5 328.1,742.6 329.0,738.2 329.9,732.8 331.3,722.7 335.0,689.5 336.3,678.6 337.2,673.2 337.7,671.2 338.2,669.8 338.6,668.9 339.1,668.6 339.5,668.9 340.0,669.8 340.4,671.2 340.9,673.2 341.8,678.6 343.2,689.5 346.8,722.7 347.7,729.7 348.6,735.6 349.6,740.5 350.9,746.1 351.4,747.5 352.3,749.7 352.7,750.6 353.7,752.0 354.6,752.9 355.9,753.7 357.8,754.2 360.0,754.4 408.9,754.5 408.9,754.5" fill="#267E8E" fill-opacity="0.5" stroke="none"/>
<polyline points="226.8,754.5 316.7,754.5 319.0,754.4 320.8,754.1 322.2,753.7 323.6,752.9 324.5,752.0 325.4,750.6 326.3,748.7 326.7,747.5 327.7,744.5 328.1,742.6 329.0,738.2 329.9,732.8 331.3,722.7 335.0,689.5 336.3,678.6 337.2,673.2 337.7,671.2 338.2,669.8 338.6,668.9 339.1,668.6 339.5,668.9 340.0,669.8 340.4,671.2 340.9,673.2 341.8,678.6 343.2,689.5 346.8,722.7 347.7,729.7 348.6,735.6 349.6,740.5 350.9,746.1 351.4,747.5 352.3,749.7 352.7,750.6 353.7,752.0 354.6,752.9 355.9,753.7 357.8,754.2 360.0,754.4 408.9,754.5" fill="none" stroke="#267E8E" stroke-width="2.3" stroke-linejoin="round"/>
<polygon points="226.8,754.5 226.8,740.0 229.6,739.3 232.3,738.7 235.1,738.2 237.8,737.9 240.5,737.8 244.2,737.8 251.0,738.1 257.0,738.7 263.3,739.6 284.8,743.5 294.4,745.1 303.5,746.3 313.5,747.4 355.0,751.4 371.0,752.7 380.1,753.3 389.2,753.7 398.4,754.0 408.9,754.3 408.9,754.5" fill="#1F9A8A" fill-opacity="0.5" stroke="none"/>
<polyline points="226.8,740.0 229.6,739.3 232.3,738.7 235.1,738.2 237.8,737.9 240.5,737.8 244.2,737.8 251.0,738.1 257.0,738.7 263.3,739.6 284.8,743.5 294.4,745.1 303.5,746.3 313.5,747.4 355.0,751.4 371.0,752.7 380.1,753.3 389.2,753.7 398.4,754.0 408.9,754.3" fill="none" stroke="#1F9A8A" stroke-width="2.3" stroke-linejoin="round"/>
<polygon points="226.8,754.5 226.8,754.5 244.2,754.3 257.0,754.0 267.9,753.4 277.5,752.6 285.7,751.6 294.4,750.2 302.1,748.7 319.4,745.1 327.2,743.7 331.8,743.0 335.9,742.6 340.0,742.3 343.6,742.2 347.7,742.2 352.3,742.5 356.9,742.9 361.9,743.6 370.5,745.1 387.0,748.6 393.8,749.9 401.6,751.2 408.9,752.2 408.9,754.5" fill="#42BE71" fill-opacity="0.5" stroke="none"/>
<polyline points="226.8,754.5 244.2,754.3 257.0,754.0 267.9,753.4 277.5,752.6 285.7,751.6 294.4,750.2 302.1,748.7 319.4,745.1 327.2,743.7 331.8,743.0 335.9,742.6 340.0,742.3 343.6,742.2 347.7,742.2 352.3,742.5 356.9,742.9 361.9,743.6 370.5,745.1 387.0,748.6 393.8,749.9 401.6,751.2 408.9,752.2" fill="none" stroke="#42BE71" stroke-width="2.3" stroke-linejoin="round"/>
<polygon points="226.8,754.5 226.8,754.5 240.1,754.4 248.7,754.3 256.0,754.0 262.4,753.5 271.5,752.4 288.0,749.9 292.5,749.0 295.7,748.0 298.0,747.0 300.3,745.6 302.1,744.2 303.9,742.3 305.8,740.2 308.0,737.0 314.4,726.5 315.8,724.5 317.2,722.6 318.5,721.0 319.9,719.8 321.3,719.1 322.6,718.8 324.0,719.0 325.4,719.6 326.7,720.8 328.6,722.9 329.9,724.9 331.3,727.2 336.8,737.4 338.6,740.6 340.9,744.1 342.7,746.5 344.5,748.5 346.4,750.1 348.2,751.4 350.5,752.6 352.7,753.3 355.0,753.8 358.2,754.2 361.9,754.4 370.5,754.5 408.9,754.5 408.9,754.5" fill="#95D840" fill-opacity="0.5" stroke="none"/>
<polyline points="226.8,754.5 240.1,754.4 248.7,754.3 256.0,754.0 262.4,753.5 271.5,752.4 288.0,749.9 292.5,749.0 295.7,748.0 298.0,747.0 300.3,745.6 302.1,744.2 303.9,742.3 305.8,740.2 308.0,737.0 314.4,726.5 315.8,724.5 317.2,722.6 318.5,721.0 319.9,719.8 321.3,719.1 322.6,718.8 324.0,719.0 325.4,719.6 326.7,720.8 328.6,722.9 329.9,724.9 331.3,727.2 336.8,737.4 338.6,740.6 340.9,744.1 342.7,746.5 344.5,748.5 346.4,750.1 348.2,751.4 350.5,752.6 352.7,753.3 355.0,753.8 358.2,754.2 361.9,754.4 370.5,754.5 408.9,754.5" fill="none" stroke="#95D840" stroke-width="2.3" stroke-linejoin="round"/>
<polygon points="226.8,754.5 226.8,754.5 287.5,754.5 298.5,754.4 303.0,754.3 306.7,754.0 309.9,753.5 312.6,752.8 315.3,751.7 318.1,750.2 319.4,749.2 320.8,748.1 323.1,745.8 325.4,743.1 328.1,739.2 330.4,735.6 336.8,724.8 338.6,722.1 340.0,720.3 341.8,718.2 343.6,716.7 344.5,716.2 345.4,715.9 346.8,715.7 348.2,715.8 349.1,716.2 350.0,716.7 351.4,717.7 353.2,719.6 355.0,721.9 356.9,724.6 364.2,736.8 366.0,739.7 367.8,742.3 370.1,745.1 371.9,747.1 373.7,748.7 376.0,750.4 378.3,751.6 380.6,752.6 383.3,753.3 386.5,753.9 389.7,754.2 393.8,754.4 408.9,754.5 408.9,754.5" fill="#FDE725" fill-opacity="0.5" stroke="none"/>
<polyline points="226.8,754.5 287.5,754.5 298.5,754.4 303.0,754.3 306.7,754.0 309.9,753.5 312.6,752.8 315.3,751.7 318.1,750.2 319.4,749.2 320.8,748.1 323.1,745.8 325.4,743.1 328.1,739.2 330.4,735.6 336.8,724.8 338.6,722.1 340.0,720.3 341.8,718.2 343.6,716.7 344.5,716.2 345.4,715.9 346.8,715.7 348.2,715.8 349.1,716.2 350.0,716.7 351.4,717.7 353.2,719.6 355.0,721.9 356.9,724.6 364.2,736.8 366.0,739.7 367.8,742.3 370.1,745.1 371.9,747.1 373.7,748.7 376.0,750.4 378.3,751.6 380.6,752.6 383.3,753.3 386.5,753.9 389.7,754.2 393.8,754.4 408.9,754.5" fill="none" stroke="#FDE725" stroke-width="2.3" stroke-linejoin="round"/>
<path d="M124.1,524.6 V767.1" stroke="#000" stroke-width="2.8" fill="none"/>
<path d="M122.6,765.6 H474.8" stroke="#000" stroke-width="2.8" fill="none"/>
<path d="M114.1,754.5 H123.1" stroke="#000" stroke-width="2.4"/>
<text x="105.7" y="767.1" font-size="32" text-anchor="end">0.0</text>
<path d="M114.1,707.1 H123.1" stroke="#000" stroke-width="2.4"/>
<text x="105.7" y="719.8" font-size="32" text-anchor="end">0.5</text>
<path d="M114.1,659.8 H123.1" stroke="#000" stroke-width="2.4"/>
<text x="105.7" y="672.4" font-size="32" text-anchor="end">1.0</text>
<path d="M114.1,612.5 H123.1" stroke="#000" stroke-width="2.4"/>
<text x="105.7" y="625.1" font-size="32" text-anchor="end">1.5</text>
<path d="M114.1,565.1 H123.1" stroke="#000" stroke-width="2.4"/>
<text x="105.7" y="577.7" font-size="32" text-anchor="end">2.0</text>
<path d="M168.2,766.6 V775.4" stroke="#000" stroke-width="2.4"/>
<text x="168.2" y="807.6" font-size="32" text-anchor="middle">5</text>
<path d="M240.6,766.6 V775.4" stroke="#000" stroke-width="2.4"/>
<text x="240.6" y="807.6" font-size="32" text-anchor="middle">10</text>
<path d="M313.0,766.6 V775.4" stroke="#000" stroke-width="2.4"/>
<text x="313.0" y="807.6" font-size="32" text-anchor="middle">15</text>
<path d="M385.4,766.6 V775.4" stroke="#000" stroke-width="2.4"/>
<text x="385.4" y="807.6" font-size="32" text-anchor="middle">20</text>
<path d="M457.8,766.6 V775.4" stroke="#000" stroke-width="2.4"/>
<text x="457.8" y="807.6" font-size="32" text-anchor="middle">25</text>
<text x="299.4" y="853.8" font-size="38" text-anchor="middle" letter-spacing="0.3">Temperatures (°C)</text>
<text transform="translate(42.4,645.9) rotate(-90)" font-size="37.5" text-anchor="middle">Density</text>
<text x="9" y="480.6" font-size="38.5" font-weight="bold">D</text>
<text x="123.9" y="489.6" font-size="45">R</text>
<text x="155.4" y="497.9" font-size="30.5">MAX</text>
<text x="230.4" y="488.5" font-size="40.5">–</text>
<text x="261.1" y="489.6" font-size="45">His</text>
</g>
<g id="panelE">
<polygon points="745.3,754.5 745.3,754.5 868.5,754.5 869.3,754.3 870.1,753.8 871.3,752.6 871.7,752.1 872.1,751.3 873.3,747.7 874.5,743.2 875.3,739.3 876.5,732.5 879.4,715.0 882.2,699.6 883.4,693.7 884.2,690.3 884.6,689.3 885.0,688.6 885.4,688.0 885.8,687.8 886.2,688.0 887.0,688.9 887.8,690.1 888.3,691.1 889.1,693.7 891.1,701.7 891.9,704.2 902.4,733.1 904.8,739.4 906.4,743.3 906.4,754.5" fill="#3F2A82" fill-opacity="0.5" stroke="none"/>
<polyline points="745.3,754.5 868.5,754.5 869.3,754.3 870.1,753.8 871.3,752.6 871.7,752.1 872.1,751.3 873.3,747.7 874.5,743.2 875.3,739.3 876.5,732.5 879.4,715.0 882.2,699.6 883.4,693.7 884.2,690.3 884.6,689.3 885.0,688.6 885.4,688.0 885.8,687.8 886.2,688.0 887.0,688.9 887.8,690.1 888.3,691.1 889.1,693.7 891.1,701.7 891.9,704.2 902.4,733.1 904.8,739.4 906.4,743.3" fill="none" stroke="#3F2A82" stroke-width="2.3" stroke-linejoin="round"/>
<polygon points="745.3,754.5 745.3,754.5 813.2,754.5 814.8,754.2 815.6,753.8 816.0,753.4 816.4,752.8 816.8,752.0 817.2,750.7 817.6,749.0 818.4,743.4 819.2,733.8 820.0,718.5 821.2,682.8 824.1,566.5 824.9,544.7 825.3,539.0 825.7,537.2 826.1,539.3 826.5,545.3 827.3,567.5 829.7,668.7 830.5,697.4 831.3,719.2 832.1,734.2 832.9,743.7 833.7,749.1 834.1,750.8 834.6,752.0 835.0,752.9 835.4,753.4 835.8,753.8 836.6,754.2 838.2,754.5 906.4,754.5 906.4,754.5" fill="#36558D" fill-opacity="0.5" stroke="none"/>
<polyline points="745.3,754.5 813.2,754.5 814.8,754.2 815.6,753.8 816.0,753.4 816.4,752.8 816.8,752.0 817.2,750.7 817.6,749.0 818.4,743.4 819.2,733.8 820.0,718.5 821.2,682.8 824.1,566.5 824.9,544.7 825.3,539.0 825.7,537.2 826.1,539.3 826.5,545.3 827.3,567.5 829.7,668.7 830.5,697.4 831.3,719.2 832.1,734.2 832.9,743.7 833.7,749.1 834.1,750.8 834.6,752.0 835.0,752.9 835.4,753.4 835.8,753.8 836.6,754.2 838.2,754.5 906.4,754.5" fill="none" stroke="#36558D" stroke-width="2.3" stroke-linejoin="round"/>
<polygon points="745.3,754.5 745.3,754.5 815.2,754.5 817.6,754.3 819.2,754.0 820.4,753.5 821.6,752.6 822.4,751.6 823.2,750.4 824.5,747.6 825.7,743.4 826.9,737.6 828.1,730.0 829.3,720.6 832.9,687.5 834.1,678.1 835.0,673.4 835.8,670.2 836.2,669.2 836.6,668.7 837.0,668.6 837.4,669.0 837.8,669.9 838.2,671.2 839.0,675.0 839.8,680.3 841.0,690.2 844.6,723.2 845.9,732.1 846.7,737.1 847.9,743.0 849.1,747.3 850.3,750.2 851.5,752.0 852.7,753.2 853.9,753.8 855.5,754.2 857.6,754.4 862.4,754.5 906.4,754.5 906.4,754.5" fill="#267E8E" fill-opacity="0.5" stroke="none"/>
<polyline points="745.3,754.5 815.2,754.5 817.6,754.3 819.2,754.0 820.4,753.5 821.6,752.6 822.4,751.6 823.2,750.4 824.5,747.6 825.7,743.4 826.9,737.6 828.1,730.0 829.3,720.6 832.9,687.5 834.1,678.1 835.0,673.4 835.8,670.2 836.2,669.2 836.6,668.7 837.0,668.6 837.4,669.0 837.8,669.9 838.2,671.2 839.0,675.0 839.8,680.3 841.0,690.2 844.6,723.2 845.9,732.1 846.7,737.1 847.9,743.0 849.1,747.3 850.3,750.2 851.5,752.0 852.7,753.2 853.9,753.8 855.5,754.2 857.6,754.4 862.4,754.5 906.4,754.5" fill="none" stroke="#267E8E" stroke-width="2.3" stroke-linejoin="round"/>
<polygon points="745.3,754.5 745.3,751.5 772.4,749.0 783.3,747.8 789.3,746.9 795.0,745.9 813.2,742.3 819.6,741.1 823.2,740.6 826.9,740.3 830.5,740.1 833.7,740.0 837.4,740.1 841.4,740.4 845.5,740.9 849.5,741.6 857.6,743.3 876.5,748.1 885.4,750.1 890.7,751.1 895.9,751.9 901.2,752.6 906.4,753.1 906.4,754.5" fill="#1F9A8A" fill-opacity="0.5" stroke="none"/>
<polyline points="745.3,751.5 772.4,749.0 783.3,747.8 789.3,746.9 795.0,745.9 813.2,742.3 819.6,741.1 823.2,740.6 826.9,740.3 830.5,740.1 833.7,740.0 837.4,740.1 841.4,740.4 845.5,740.9 849.5,741.6 857.6,743.3 876.5,748.1 885.4,750.1 890.7,751.1 895.9,751.9 901.2,752.6 906.4,753.1" fill="none" stroke="#1F9A8A" stroke-width="2.3" stroke-linejoin="round"/>
<polygon points="745.3,754.5 745.3,754.3 756.2,754.0 765.5,753.5 774.0,752.8 781.7,751.9 788.9,750.8 796.2,749.5 803.1,748.0 818.4,744.5 826.5,742.9 830.9,742.2 835.0,741.7 839.0,741.4 842.6,741.3 847.5,741.3 852.7,741.5 858.0,742.0 863.2,742.8 872.9,744.5 895.1,749.1 906.4,751.0 906.4,754.5" fill="#42BE71" fill-opacity="0.5" stroke="none"/>
<polyline points="745.3,754.3 756.2,754.0 765.5,753.5 774.0,752.8 781.7,751.9 788.9,750.8 796.2,749.5 803.1,748.0 818.4,744.5 826.5,742.9 830.9,742.2 835.0,741.7 839.0,741.4 842.6,741.3 847.5,741.3 852.7,741.5 858.0,742.0 863.2,742.8 872.9,744.5 895.1,749.1 906.4,751.0" fill="none" stroke="#42BE71" stroke-width="2.3" stroke-linejoin="round"/>
<polygon points="745.3,754.5 745.3,754.5 790.5,754.5 800.2,754.4 804.7,754.2 807.9,753.8 810.7,753.3 813.2,752.6 815.6,751.5 818.0,750.1 820.4,748.1 822.4,746.1 824.5,743.7 826.9,740.3 829.3,736.5 835.0,727.1 836.6,724.6 838.2,722.4 839.8,720.6 841.4,719.2 843.0,718.4 843.8,718.1 844.6,718.0 845.9,718.2 846.7,718.4 847.5,718.8 849.1,720.0 850.7,721.6 852.3,723.6 853.9,726.0 861.2,738.0 863.2,741.0 864.8,743.3 866.9,745.8 868.9,747.9 870.9,749.6 872.9,750.9 875.3,752.1 877.8,753.0 880.6,753.7 883.4,754.0 886.6,754.3 890.7,754.4 906.4,754.5 906.4,754.5" fill="#95D840" fill-opacity="0.5" stroke="none"/>
<polyline points="745.3,754.5 790.5,754.5 800.2,754.4 804.7,754.2 807.9,753.8 810.7,753.3 813.2,752.6 815.6,751.5 818.0,750.1 820.4,748.1 822.4,746.1 824.5,743.7 826.9,740.3 829.3,736.5 835.0,727.1 836.6,724.6 838.2,722.4 839.8,720.6 841.4,719.2 843.0,718.4 843.8,718.1 844.6,718.0 845.9,718.2 846.7,718.4 847.5,718.8 849.1,720.0 850.7,721.6 852.3,723.6 853.9,726.0 861.2,738.0 863.2,741.0 864.8,743.3 866.9,745.8 868.9,747.9 870.9,749.6 872.9,750.9 875.3,752.1 877.8,753.0 880.6,753.7 883.4,754.0 886.6,754.3 890.7,754.4 906.4,754.5" fill="none" stroke="#95D840" stroke-width="2.3" stroke-linejoin="round"/>
<polygon points="745.3,754.5 745.3,754.5 788.5,754.5 798.6,754.4 803.1,754.1 806.3,753.7 809.1,753.1 811.9,752.2 814.4,751.1 816.8,749.6 819.2,747.6 821.2,745.5 823.7,742.5 826.1,739.1 828.5,735.2 834.6,725.0 836.2,722.6 837.8,720.4 839.8,718.1 841.4,716.8 843.0,716.0 843.8,715.8 844.6,715.7 845.5,715.7 846.3,715.9 847.9,716.6 849.5,717.9 851.1,719.5 852.7,721.6 854.7,724.6 862.0,736.7 864.0,739.8 865.6,742.1 867.7,744.7 869.7,746.9 871.7,748.7 874.1,750.5 876.5,751.8 879.0,752.7 881.8,753.4 884.6,753.9 887.8,754.2 891.9,754.4 906.4,754.5 906.4,754.5" fill="#FDE725" fill-opacity="0.5" stroke="none"/>
<polyline points="745.3,754.5 788.5,754.5 798.6,754.4 803.1,754.1 806.3,753.7 809.1,753.1 811.9,752.2 814.4,751.1 816.8,749.6 819.2,747.6 821.2,745.5 823.7,742.5 826.1,739.1 828.5,735.2 834.6,725.0 836.2,722.6 837.8,720.4 839.8,718.1 841.4,716.8 843.0,716.0 843.8,715.8 844.6,715.7 845.5,715.7 846.3,715.9 847.9,716.6 849.5,717.9 851.1,719.5 852.7,721.6 854.7,724.6 862.0,736.7 864.0,739.8 865.6,742.1 867.7,744.7 869.7,746.9 871.7,748.7 874.1,750.5 876.5,751.8 879.0,752.7 881.8,753.4 884.6,753.9 887.8,754.2 891.9,754.4 906.4,754.5" fill="none" stroke="#FDE725" stroke-width="2.3" stroke-linejoin="round"/>
<path d="M621.8,524.6 V767.1" stroke="#000" stroke-width="2.8" fill="none"/>
<path d="M620.3,765.6 H972.4" stroke="#000" stroke-width="2.8" fill="none"/>
<path d="M611.8,754.5 H620.8" stroke="#000" stroke-width="2.4"/>
<text x="603.4" y="767.1" font-size="32" text-anchor="end">0.0</text>
<path d="M611.8,707.1 H620.8" stroke="#000" stroke-width="2.4"/>
<text x="603.4" y="719.8" font-size="32" text-anchor="end">0.5</text>
<path d="M611.8,659.8 H620.8" stroke="#000" stroke-width="2.4"/>
<text x="603.4" y="672.4" font-size="32" text-anchor="end">1.0</text>
<path d="M611.8,612.5 H620.8" stroke="#000" stroke-width="2.4"/>
<text x="603.4" y="625.1" font-size="32" text-anchor="end">1.5</text>
<path d="M611.8,565.1 H620.8" stroke="#000" stroke-width="2.4"/>
<text x="603.4" y="577.7" font-size="32" text-anchor="end">2.0</text>
<path d="M666.3,766.6 V775.4" stroke="#000" stroke-width="2.4"/>
<text x="666.3" y="807.6" font-size="32" text-anchor="middle">5</text>
<path d="M738.8,766.6 V775.4" stroke="#000" stroke-width="2.4"/>
<text x="738.8" y="807.6" font-size="32" text-anchor="middle">10</text>
<path d="M811.3,766.6 V775.4" stroke="#000" stroke-width="2.4"/>
<text x="811.3" y="807.6" font-size="32" text-anchor="middle">15</text>
<path d="M883.8,766.6 V775.4" stroke="#000" stroke-width="2.4"/>
<text x="883.8" y="807.6" font-size="32" text-anchor="middle">20</text>
<path d="M956.3,766.6 V775.4" stroke="#000" stroke-width="2.4"/>
<text x="956.3" y="807.6" font-size="32" text-anchor="middle">25</text>
<text x="797.1" y="853.8" font-size="38" text-anchor="middle" letter-spacing="0.3">Temperatures (°C)</text>
<text transform="translate(540.6,645.9) rotate(-90)" font-size="37.5" text-anchor="middle">Density</text>
<text x="506.8" y="480.6" font-size="38.5" font-weight="bold">E</text>
<text x="622.0" y="489.6" font-size="45">A</text>
<text x="651.3" y="497.9" font-size="30.5">MAX</text>
<text x="726.3" y="488.5" font-size="40.5">–</text>
<text x="756.9" y="489.6" font-size="45">His</text>
</g>
<g id="panelF">
<polygon points="1166.0,754.5 1166.0,754.5 1296.2,754.5 1299.5,754.3 1300.7,754.0 1301.5,753.6 1302.3,752.8 1303.1,751.5 1304.0,749.5 1304.4,748.2 1305.2,744.5 1305.6,742.2 1306.4,736.2 1307.2,728.3 1308.4,712.8 1311.3,666.9 1312.1,655.3 1312.9,646.3 1313.3,643.2 1313.7,641.1 1314.1,640.0 1314.5,640.1 1315.0,641.2 1315.4,643.5 1316.2,650.9 1317.4,667.6 1320.2,713.5 1321.5,728.8 1322.3,736.6 1322.7,739.7 1323.5,744.8 1323.9,746.7 1324.7,749.7 1325.5,751.6 1326.3,752.8 1327.2,753.6 1328.4,754.2 1328.4,754.5" fill="#3F2A82" fill-opacity="0.5" stroke="none"/>
<polyline points="1166.0,754.5 1296.2,754.5 1299.5,754.3 1300.7,754.0 1301.5,753.6 1302.3,752.8 1303.1,751.5 1304.0,749.5 1304.4,748.2 1305.2,744.5 1305.6,742.2 1306.4,736.2 1307.2,728.3 1308.4,712.8 1311.3,666.9 1312.1,655.3 1312.9,646.3 1313.3,643.2 1313.7,641.1 1314.1,640.0 1314.5,640.1 1315.0,641.2 1315.4,643.5 1316.2,650.9 1317.4,667.6 1320.2,713.5 1321.5,728.8 1322.3,736.6 1322.7,739.7 1323.5,744.8 1323.9,746.7 1324.7,749.7 1325.5,751.6 1326.3,752.8 1327.2,753.6 1328.4,754.2" fill="none" stroke="#3F2A82" stroke-width="2.3" stroke-linejoin="round"/>
<polygon points="1166.0,754.5 1166.0,754.5 1219.7,754.5 1221.3,754.2 1222.2,753.7 1222.6,753.3 1223.0,752.6 1223.4,751.5 1223.8,750.0 1224.2,747.8 1224.6,744.7 1225.0,740.5 1225.8,728.0 1226.2,719.1 1226.6,708.2 1227.4,680.4 1229.5,588.8 1230.3,557.7 1230.7,546.8 1231.1,539.9 1231.5,537.5 1231.9,539.7 1232.3,546.3 1232.7,557.1 1233.5,587.9 1235.6,679.6 1236.4,707.6 1236.8,718.6 1237.2,727.6 1238.0,740.3 1238.4,744.5 1238.8,747.6 1239.2,749.9 1239.7,751.4 1240.1,752.5 1240.5,753.3 1240.9,753.7 1241.3,754.0 1242.1,754.3 1243.7,754.5 1328.4,754.5 1328.4,754.5" fill="#36558D" fill-opacity="0.5" stroke="none"/>
<polyline points="1166.0,754.5 1219.7,754.5 1221.3,754.2 1222.2,753.7 1222.6,753.3 1223.0,752.6 1223.4,751.5 1223.8,750.0 1224.2,747.8 1224.6,744.7 1225.0,740.5 1225.8,728.0 1226.2,719.1 1226.6,708.2 1227.4,680.4 1229.5,588.8 1230.3,557.7 1230.7,546.8 1231.1,539.9 1231.5,537.5 1231.9,539.7 1232.3,546.3 1232.7,557.1 1233.5,587.9 1235.6,679.6 1236.4,707.6 1236.8,718.6 1237.2,727.6 1238.0,740.3 1238.4,744.5 1238.8,747.6 1239.2,749.9 1239.7,751.4 1240.1,752.5 1240.5,753.3 1240.9,753.7 1241.3,754.0 1242.1,754.3 1243.7,754.5 1328.4,754.5" fill="none" stroke="#36558D" stroke-width="2.3" stroke-linejoin="round"/>
<polygon points="1166.0,754.5 1166.0,754.5 1230.7,754.5 1232.3,754.3 1233.1,754.1 1234.0,753.6 1234.8,752.5 1235.6,750.4 1236.0,748.8 1236.8,743.9 1237.6,736.0 1238.4,724.2 1239.7,698.4 1242.5,619.0 1243.3,603.6 1243.7,599.0 1244.1,596.8 1244.5,597.1 1244.9,599.9 1245.4,605.1 1245.8,612.3 1246.6,631.9 1249.0,700.9 1250.2,725.9 1251.1,737.2 1251.9,744.6 1252.7,749.2 1253.1,750.7 1253.9,752.7 1254.7,753.7 1255.5,754.1 1256.3,754.4 1258.0,754.5 1328.4,754.5 1328.4,754.5" fill="#267E8E" fill-opacity="0.5" stroke="none"/>
<polyline points="1166.0,754.5 1230.7,754.5 1232.3,754.3 1233.1,754.1 1234.0,753.6 1234.8,752.5 1235.6,750.4 1236.0,748.8 1236.8,743.9 1237.6,736.0 1238.4,724.2 1239.7,698.4 1242.5,619.0 1243.3,603.6 1243.7,599.0 1244.1,596.8 1244.5,597.1 1244.9,599.9 1245.4,605.1 1245.8,612.3 1246.6,631.9 1249.0,700.9 1250.2,725.9 1251.1,737.2 1251.9,744.6 1252.7,749.2 1253.1,750.7 1253.9,752.7 1254.7,753.7 1255.5,754.1 1256.3,754.4 1258.0,754.5 1328.4,754.5" fill="none" stroke="#267E8E" stroke-width="2.3" stroke-linejoin="round"/>
<polygon points="1166.0,754.5 1166.0,754.5 1207.5,754.5 1212.4,753.8 1216.9,752.9 1222.2,751.8 1228.3,750.1 1238.4,746.6 1250.2,742.1 1258.0,739.4 1261.6,738.2 1264.5,737.5 1270.6,736.2 1273.4,735.7 1275.9,735.5 1280.8,735.5 1288.5,736.0 1292.2,736.4 1303.1,738.0 1317.0,739.1 1320.2,739.4 1321.1,739.6 1321.9,739.9 1323.5,740.8 1325.9,742.4 1328.4,744.5 1328.4,754.5" fill="#1F9A8A" fill-opacity="0.5" stroke="none"/>
<polyline points="1166.0,754.5 1207.5,754.5 1212.4,753.8 1216.9,752.9 1222.2,751.8 1228.3,750.1 1238.4,746.6 1250.2,742.1 1258.0,739.4 1261.6,738.2 1264.5,737.5 1270.6,736.2 1273.4,735.7 1275.9,735.5 1280.8,735.5 1288.5,736.0 1292.2,736.4 1303.1,738.0 1317.0,739.1 1320.2,739.4 1321.1,739.6 1321.9,739.9 1323.5,740.8 1325.9,742.4 1328.4,744.5" fill="none" stroke="#1F9A8A" stroke-width="2.3" stroke-linejoin="round"/>
<polygon points="1166.0,754.5 1166.0,751.2 1179.4,751.1 1196.1,750.5 1205.1,750.0 1213.2,749.2 1217.3,748.7 1222.2,747.6 1224.6,746.9 1231.5,744.5 1236.8,743.2 1240.9,742.3 1246.2,741.5 1252.3,740.7 1256.3,740.5 1260.0,740.4 1266.1,740.6 1273.4,740.9 1276.7,741.2 1280.4,741.8 1290.1,743.7 1296.6,745.1 1307.2,747.5 1328.4,752.7 1328.4,754.5" fill="#42BE71" fill-opacity="0.5" stroke="none"/>
<polyline points="1166.0,751.2 1179.4,751.1 1196.1,750.5 1205.1,750.0 1213.2,749.2 1217.3,748.7 1222.2,747.6 1224.6,746.9 1231.5,744.5 1236.8,743.2 1240.9,742.3 1246.2,741.5 1252.3,740.7 1256.3,740.5 1260.0,740.4 1266.1,740.6 1273.4,740.9 1276.7,741.2 1280.4,741.8 1290.1,743.7 1296.6,745.1 1307.2,747.5 1328.4,752.7" fill="none" stroke="#42BE71" stroke-width="2.3" stroke-linejoin="round"/>
<polygon points="1166.0,754.5 1166.0,754.5 1226.6,754.4 1229.9,754.3 1232.3,754.0 1234.4,753.6 1236.4,752.8 1237.6,752.1 1238.4,751.5 1239.7,750.5 1240.5,749.6 1242.1,747.4 1243.7,744.6 1245.4,741.1 1247.0,737.0 1248.6,732.3 1252.7,719.8 1253.9,716.4 1255.1,713.4 1256.3,711.0 1257.6,709.3 1258.4,708.6 1258.8,708.3 1259.6,708.2 1260.4,708.4 1260.8,708.7 1261.6,709.5 1262.9,711.3 1264.1,713.8 1266.1,719.1 1271.8,736.3 1273.4,740.6 1275.1,744.1 1276.3,746.4 1277.9,748.8 1279.5,750.6 1281.2,752.0 1282.8,752.9 1284.8,753.6 1287.3,754.1 1290.1,754.4 1297.0,754.5 1328.4,754.5 1328.4,754.5" fill="#95D840" fill-opacity="0.5" stroke="none"/>
<polyline points="1166.0,754.5 1226.6,754.4 1229.9,754.3 1232.3,754.0 1234.4,753.6 1236.4,752.8 1237.6,752.1 1238.4,751.5 1239.7,750.5 1240.5,749.6 1242.1,747.4 1243.7,744.6 1245.4,741.1 1247.0,737.0 1248.6,732.3 1252.7,719.8 1253.9,716.4 1255.1,713.4 1256.3,711.0 1257.6,709.3 1258.4,708.6 1258.8,708.3 1259.6,708.2 1260.4,708.4 1260.8,708.7 1261.6,709.5 1262.9,711.3 1264.1,713.8 1266.1,719.1 1271.8,736.3 1273.4,740.6 1275.1,744.1 1276.3,746.4 1277.9,748.8 1279.5,750.6 1281.2,752.0 1282.8,752.9 1284.8,753.6 1287.3,754.1 1290.1,754.4 1297.0,754.5 1328.4,754.5" fill="none" stroke="#95D840" stroke-width="2.3" stroke-linejoin="round"/>
<polygon points="1166.0,754.5 1166.0,754.5 1216.9,754.5 1225.0,754.4 1228.3,754.2 1231.1,753.9 1233.5,753.2 1235.6,752.3 1237.6,751.0 1238.8,749.8 1239.7,748.9 1240.9,747.3 1241.7,746.1 1243.3,743.1 1244.9,739.5 1247.0,734.3 1253.1,715.8 1254.3,712.4 1255.5,709.4 1256.7,706.9 1258.0,705.1 1258.8,704.2 1259.2,703.9 1260.0,703.6 1260.4,703.6 1261.2,703.7 1261.6,704.0 1262.4,704.7 1263.3,705.7 1264.5,707.8 1265.7,710.4 1266.9,713.6 1272.2,729.1 1274.7,735.4 1276.3,738.8 1277.5,740.9 1279.1,743.0 1280.8,744.5 1282.4,745.6 1288.1,748.4 1294.6,752.1 1297.0,753.2 1299.5,753.9 1302.3,754.3 1306.0,754.5 1328.4,754.5 1328.4,754.5" fill="#FDE725" fill-opacity="0.5" stroke="none"/>
<polyline points="1166.0,754.5 1216.9,754.5 1225.0,754.4 1228.3,754.2 1231.1,753.9 1233.5,753.2 1235.6,752.3 1237.6,751.0 1238.8,749.8 1239.7,748.9 1240.9,747.3 1241.7,746.1 1243.3,743.1 1244.9,739.5 1247.0,734.3 1253.1,715.8 1254.3,712.4 1255.5,709.4 1256.7,706.9 1258.0,705.1 1258.8,704.2 1259.2,703.9 1260.0,703.6 1260.4,703.6 1261.2,703.7 1261.6,704.0 1262.4,704.7 1263.3,705.7 1264.5,707.8 1265.7,710.4 1266.9,713.6 1272.2,729.1 1274.7,735.4 1276.3,738.8 1277.5,740.9 1279.1,743.0 1280.8,744.5 1282.4,745.6 1288.1,748.4 1294.6,752.1 1297.0,753.2 1299.5,753.9 1302.3,754.3 1306.0,754.5 1328.4,754.5" fill="none" stroke="#FDE725" stroke-width="2.3" stroke-linejoin="round"/>
<path d="M1119.9,525.2 V767.1" stroke="#000" stroke-width="2.8" fill="none"/>
<path d="M1118.4,765.6 H1470.9" stroke="#000" stroke-width="2.8" fill="none"/>
<path d="M1109.9,754.5 H1118.9" stroke="#000" stroke-width="2.4"/>
<text x="1101.5" y="767.1" font-size="32" text-anchor="end">0.0</text>
<path d="M1109.9,709.1 H1118.9" stroke="#000" stroke-width="2.4"/>
<text x="1101.5" y="721.7" font-size="32" text-anchor="end">0.5</text>
<path d="M1109.9,663.7 H1118.9" stroke="#000" stroke-width="2.4"/>
<text x="1101.5" y="676.3" font-size="32" text-anchor="end">1.0</text>
<path d="M1109.9,618.3 H1118.9" stroke="#000" stroke-width="2.4"/>
<text x="1101.5" y="630.9" font-size="32" text-anchor="end">1.5</text>
<path d="M1109.9,572.9 H1118.9" stroke="#000" stroke-width="2.4"/>
<text x="1101.5" y="585.5" font-size="32" text-anchor="end">2.0</text>
<path d="M1109.9,527.5 H1118.9" stroke="#000" stroke-width="2.4"/>
<text x="1101.5" y="540.1" font-size="32" text-anchor="end">2.5</text>
<path d="M1164.1,766.6 V775.4" stroke="#000" stroke-width="2.4"/>
<text x="1164.1" y="807.6" font-size="32" text-anchor="middle">5</text>
<path d="M1236.6,766.6 V775.4" stroke="#000" stroke-width="2.4"/>
<text x="1236.6" y="807.6" font-size="32" text-anchor="middle">10</text>
<path d="M1309.1,766.6 V775.4" stroke="#000" stroke-width="2.4"/>
<text x="1309.1" y="807.6" font-size="32" text-anchor="middle">15</text>
<path d="M1381.6,766.6 V775.4" stroke="#000" stroke-width="2.4"/>
<text x="1381.6" y="807.6" font-size="32" text-anchor="middle">20</text>
<path d="M1454.1,766.6 V775.4" stroke="#000" stroke-width="2.4"/>
<text x="1454.1" y="807.6" font-size="32" text-anchor="middle">25</text>
<text x="1295.4" y="853.8" font-size="38" text-anchor="middle" letter-spacing="0.3">Temperatures (°C)</text>
<text transform="translate(1038.4,646.2) rotate(-90)" font-size="37.5" text-anchor="middle">Density</text>
<text x="1004.4" y="480.6" font-size="38.5" font-weight="bold">F</text>
<text x="1120.1" y="489.6" font-size="45">A</text>
<text x="1149.4" y="497.9" font-size="30.5">RANGE</text>
<text x="1267.6" y="488.5" font-size="40.5">–</text>
<text x="1298.2" y="489.6" font-size="45">His</text>
</g>
<g id="legend">
<text x="1488.2" y="296.2" font-size="37.5">Hatchery</text>
<rect x="1491.3" y="321.2" width="37" height="37" fill="#3F2A82" fill-opacity="0.5" stroke="#3F2A82" stroke-width="2.2"/>
<text x="1549.5" y="351.4" font-size="33" letter-spacing="0.1">Priest Rapids</text>
<rect x="1491.3" y="363.1" width="37" height="37" fill="#36558D" fill-opacity="0.5" stroke="#36558D" stroke-width="2.2"/>
<text x="1549.5" y="393.3" font-size="33" letter-spacing="0.1">Trask</text>
<rect x="1491.3" y="404.9" width="37" height="37" fill="#267E8E" fill-opacity="0.5" stroke="#267E8E" stroke-width="2.2"/>
<text x="1549.5" y="435.3" font-size="33" letter-spacing="0.1">Elk River</text>
<rect x="1491.3" y="446.8" width="37" height="37" fill="#1F9A8A" fill-opacity="0.5" stroke="#1F9A8A" stroke-width="2.2"/>
<text x="1549.5" y="477.2" font-size="33" letter-spacing="0.1">Trinity</text>
<rect x="1491.3" y="488.6" width="37" height="37" fill="#42BE71" fill-opacity="0.5" stroke="#42BE71" stroke-width="2.2"/>
<text x="1549.5" y="519.1" font-size="33" letter-spacing="0.1">Winter-Run</text>
<rect x="1491.3" y="530.5" width="37" height="37" fill="#95D840" fill-opacity="0.5" stroke="#95D840" stroke-width="2.2"/>
<text x="1549.5" y="561.0" font-size="33" letter-spacing="0.1">Feather Fall</text>
<rect x="1491.3" y="572.3" width="37" height="37" fill="#FDE725" fill-opacity="0.5" stroke="#FDE725" stroke-width="2.2"/>
<text x="1549.5" y="603.0" font-size="33" letter-spacing="0.1">Feather Spring</text>
</g>
</svg>
</body></html>
